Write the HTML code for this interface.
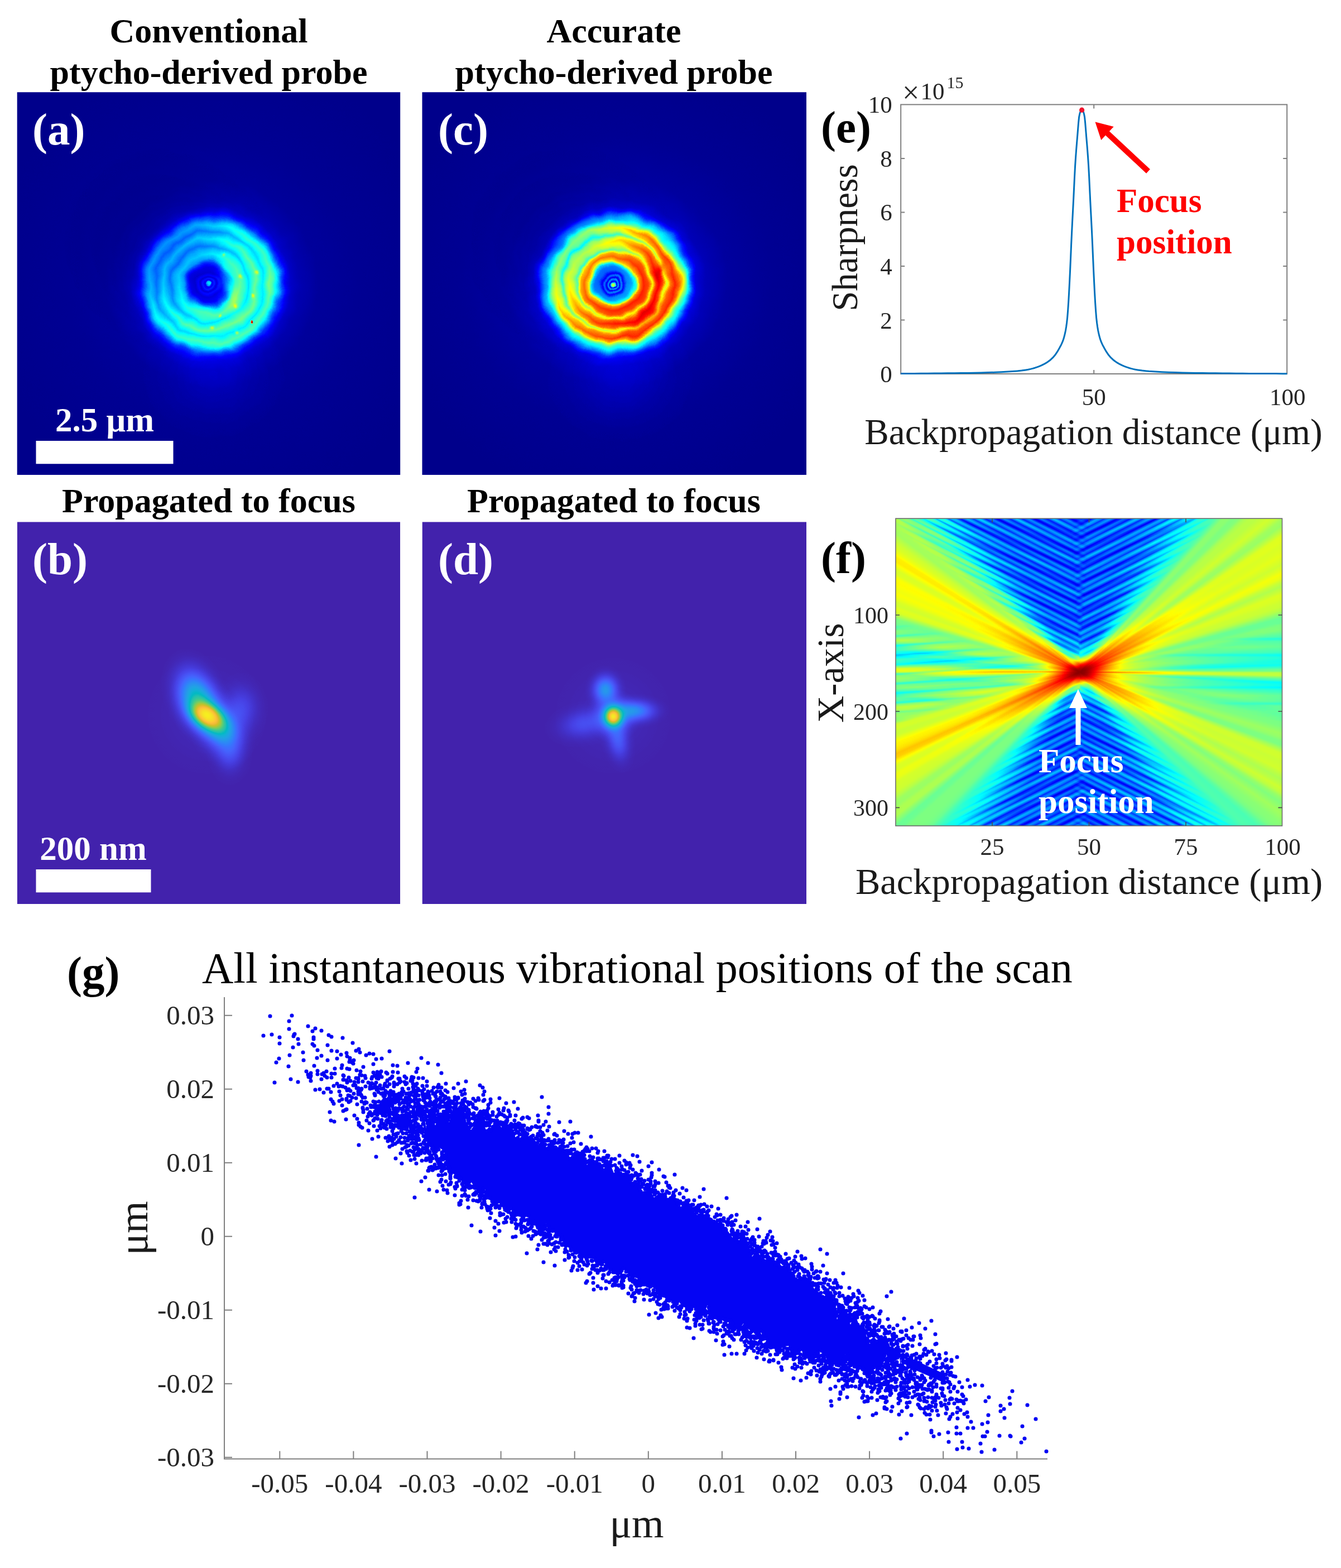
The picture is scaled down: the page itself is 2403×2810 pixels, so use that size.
<!DOCTYPE html>
<html><head><meta charset="utf-8"><title>Figure</title>
<style>
html,body{margin:0;padding:0;background:#fff}
body{width:2403px;height:2810px;position:relative;overflow:hidden;font-family:"Liberation Serif","Times New Roman",serif}
svg{position:absolute;left:0;top:0}
text{font-family:"Liberation Serif","Times New Roman",serif}
</style></head><body>
<div style="position:absolute;left:1605.0px;top:929.2px;width:692.5px;height:550.8px;overflow:hidden;filter:url(#jet);background:conic-gradient(from 0deg at 330.0px 275.3px, rgb(51,51,51) 0deg, rgb(51,51,51) 1deg, rgb(51,51,51) 2deg, rgb(51,51,51) 3deg, rgb(52,52,52) 4deg, rgb(52,52,52) 5deg, rgb(52,52,52) 6deg, rgb(52,52,52) 7deg, rgb(52,52,52) 8deg, rgb(52,52,52) 9deg, rgb(52,52,52) 10deg, rgb(52,52,52) 11deg, rgb(53,53,53) 12deg, rgb(53,53,53) 13deg, rgb(53,53,53) 14deg, rgb(53,53,53) 15deg, rgb(53,53,53) 16deg, rgb(53,53,53) 17deg, rgb(53,53,53) 18deg, rgb(53,53,53) 19deg, rgb(54,54,54) 20deg, rgb(55,55,55) 21deg, rgb(56,56,56) 22deg, rgb(57,57,57) 23deg, rgb(58,58,58) 24deg, rgb(59,59,59) 25deg, rgb(60,60,60) 26deg, rgb(61,61,61) 27deg, rgb(64,64,64) 28deg, rgb(66,66,66) 29deg, rgb(69,69,69) 30deg, rgb(71,71,71) 31deg, rgb(76,76,76) 32deg, rgb(80,80,80) 33deg, rgb(84,84,84) 34deg, rgb(89,89,89) 35deg, rgb(94,94,94) 36deg, rgb(99,99,99) 37deg, rgb(103,103,103) 38deg, rgb(108,108,108) 39deg, rgb(111,111,111) 40deg, rgb(114,114,114) 41deg, rgb(122,122,122) 42deg, rgb(131,131,131) 43deg, rgb(131,131,131) 44deg, rgb(127,127,127) 45deg, rgb(129,129,129) 46deg, rgb(138,138,138) 47deg, rgb(142,142,142) 48deg, rgb(142,142,142) 49deg, rgb(145,145,145) 50deg, rgb(148,148,148) 51deg, rgb(144,144,144) 52deg, rgb(136,136,136) 53deg, rgb(134,134,134) 54deg, rgb(142,142,142) 55deg, rgb(151,151,151) 56deg, rgb(152,152,152) 57deg, rgb(150,150,150) 58deg, rgb(151,151,151) 59deg, rgb(153,153,153) 60deg, rgb(150,150,150) 61deg, rgb(147,147,147) 62deg, rgb(151,151,151) 63deg, rgb(157,157,157) 64deg, rgb(154,154,154) 65deg, rgb(145,145,145) 66deg, rgb(140,140,140) 67deg, rgb(145,145,145) 68deg, rgb(151,151,151) 69deg, rgb(150,150,150) 70deg, rgb(147,147,147) 71deg, rgb(146,146,146) 72deg, rgb(141,141,141) 73deg, rgb(131,131,131) 74deg, rgb(122,122,122) 75deg, rgb(122,122,122) 76deg, rgb(127,127,127) 77deg, rgb(126,126,126) 78deg, rgb(120,120,120) 79deg, rgb(116,116,116) 80deg, rgb(116,116,116) 81deg, rgb(116,116,116) 82deg, rgb(113,113,113) 83deg, rgb(112,112,112) 84deg, rgb(109,109,109) 85deg, rgb(104,104,104) 86deg, rgb(94,94,94) 87deg, rgb(92,92,92) 88deg, rgb(115,115,115) 89deg, rgb(146,146,146) 90deg, rgb(142,142,142) 91deg, rgb(111,111,111) 92deg, rgb(91,91,91) 93deg, rgb(102,102,102) 94deg, rgb(107,107,107) 95deg, rgb(110,110,110) 96deg, rgb(114,114,114) 97deg, rgb(118,118,118) 98deg, rgb(121,121,121) 99deg, rgb(120,120,120) 100deg, rgb(117,117,117) 101deg, rgb(118,118,118) 102deg, rgb(123,123,123) 103deg, rgb(126,126,126) 104deg, rgb(127,127,127) 105deg, rgb(131,131,131) 106deg, rgb(135,135,135) 107deg, rgb(133,133,133) 108deg, rgb(127,127,127) 109deg, rgb(127,127,127) 110deg, rgb(138,138,138) 111deg, rgb(147,147,147) 112deg, rgb(148,148,148) 113deg, rgb(146,146,146) 114deg, rgb(147,147,147) 115deg, rgb(148,148,148) 116deg, rgb(143,143,143) 117deg, rgb(139,139,139) 118deg, rgb(142,142,142) 119deg, rgb(147,147,147) 120deg, rgb(143,143,143) 121deg, rgb(133,133,133) 122deg, rgb(128,128,128) 123deg, rgb(132,132,132) 124deg, rgb(136,136,136) 125deg, rgb(133,133,133) 126deg, rgb(130,130,130) 127deg, rgb(129,129,129) 128deg, rgb(126,126,126) 129deg, rgb(119,119,119) 130deg, rgb(114,114,114) 131deg, rgb(115,115,115) 132deg, rgb(116,116,116) 133deg, rgb(113,113,113) 134deg, rgb(108,108,108) 135deg, rgb(105,105,105) 136deg, rgb(101,101,101) 137deg, rgb(99,99,99) 138deg, rgb(96,96,96) 139deg, rgb(93,93,93) 140deg, rgb(91,91,91) 141deg, rgb(88,88,88) 142deg, rgb(85,85,85) 143deg, rgb(82,82,82) 144deg, rgb(78,78,78) 145deg, rgb(74,74,74) 146deg, rgb(70,70,70) 147deg, rgb(66,66,66) 148deg, rgb(65,65,65) 149deg, rgb(63,63,63) 150deg, rgb(62,62,62) 151deg, rgb(60,60,60) 152deg, rgb(59,59,59) 153deg, rgb(58,58,58) 154deg, rgb(56,56,56) 155deg, rgb(56,56,56) 156deg, rgb(56,56,56) 157deg, rgb(55,55,55) 158deg, rgb(55,55,55) 159deg, rgb(55,55,55) 160deg, rgb(55,55,55) 161deg, rgb(55,55,55) 162deg, rgb(54,54,54) 163deg, rgb(54,54,54) 164deg, rgb(54,54,54) 165deg, rgb(54,54,54) 166deg, rgb(54,54,54) 167deg, rgb(53,53,53) 168deg, rgb(53,53,53) 169deg, rgb(53,53,53) 170deg, rgb(53,53,53) 171deg, rgb(53,53,53) 172deg, rgb(52,52,52) 173deg, rgb(52,52,52) 174deg, rgb(52,52,52) 175deg, rgb(52,52,52) 176deg, rgb(52,52,52) 177deg, rgb(51,51,51) 178deg, rgb(51,51,51) 179deg, rgb(51,51,51) 180deg, rgb(51,51,51) 181deg, rgb(51,51,51) 182deg, rgb(51,51,51) 183deg, rgb(51,51,51) 184deg, rgb(52,52,52) 185deg, rgb(52,52,52) 186deg, rgb(52,52,52) 187deg, rgb(52,52,52) 188deg, rgb(52,52,52) 189deg, rgb(52,52,52) 190deg, rgb(52,52,52) 191deg, rgb(52,52,52) 192deg, rgb(52,52,52) 193deg, rgb(52,52,52) 194deg, rgb(53,53,53) 195deg, rgb(53,53,53) 196deg, rgb(53,53,53) 197deg, rgb(53,53,53) 198deg, rgb(53,53,53) 199deg, rgb(53,53,53) 200deg, rgb(53,53,53) 201deg, rgb(53,53,53) 202deg, rgb(53,53,53) 203deg, rgb(53,53,53) 204deg, rgb(54,54,54) 205deg, rgb(56,56,56) 206deg, rgb(58,58,58) 207deg, rgb(60,60,60) 208deg, rgb(62,62,62) 209deg, rgb(64,64,64) 210deg, rgb(68,68,68) 211deg, rgb(71,71,71) 212deg, rgb(75,75,75) 213deg, rgb(79,79,79) 214deg, rgb(84,84,84) 215deg, rgb(88,88,88) 216deg, rgb(92,92,92) 217deg, rgb(97,97,97) 218deg, rgb(101,101,101) 219deg, rgb(104,104,104) 220deg, rgb(107,107,107) 221deg, rgb(110,110,110) 222deg, rgb(116,116,116) 223deg, rgb(123,123,123) 224deg, rgb(126,126,126) 225deg, rgb(127,127,127) 226deg, rgb(127,127,127) 227deg, rgb(127,127,127) 228deg, rgb(123,123,123) 229deg, rgb(122,122,122) 230deg, rgb(130,130,130) 231deg, rgb(139,139,139) 232deg, rgb(139,139,139) 233deg, rgb(134,134,134) 234deg, rgb(135,135,135) 235deg, rgb(142,142,142) 236deg, rgb(147,147,147) 237deg, rgb(148,148,148) 238deg, rgb(149,149,149) 239deg, rgb(154,154,154) 240deg, rgb(155,155,155) 241deg, rgb(150,150,150) 242deg, rgb(151,151,151) 243deg, rgb(160,160,160) 244deg, rgb(171,171,171) 245deg, rgb(174,174,174) 246deg, rgb(167,167,167) 247deg, rgb(163,163,163) 248deg, rgb(161,161,161) 249deg, rgb(154,154,154) 250deg, rgb(147,147,147) 251deg, rgb(146,146,146) 252deg, rgb(149,149,149) 253deg, rgb(148,148,148) 254deg, rgb(138,138,138) 255deg, rgb(131,131,131) 256deg, rgb(133,133,133) 257deg, rgb(136,136,136) 258deg, rgb(132,132,132) 259deg, rgb(125,125,125) 260deg, rgb(121,121,121) 261deg, rgb(119,119,119) 262deg, rgb(115,115,115) 263deg, rgb(111,111,111) 264deg, rgb(112,112,112) 265deg, rgb(118,118,118) 266deg, rgb(123,123,123) 267deg, rgb(123,123,123) 268deg, rgb(141,141,141) 269deg, rgb(155,155,155) 270deg, rgb(143,143,143) 271deg, rgb(116,116,116) 272deg, rgb(97,97,97) 273deg, rgb(94,94,94) 274deg, rgb(92,92,92) 275deg, rgb(107,107,107) 276deg, rgb(109,109,109) 277deg, rgb(113,113,113) 278deg, rgb(122,122,122) 279deg, rgb(126,126,126) 280deg, rgb(126,126,126) 281deg, rgb(125,125,125) 282deg, rgb(125,125,125) 283deg, rgb(126,126,126) 284deg, rgb(124,124,124) 285deg, rgb(127,127,127) 286deg, rgb(139,139,139) 287deg, rgb(150,150,150) 288deg, rgb(152,152,152) 289deg, rgb(148,148,148) 290deg, rgb(150,150,150) 291deg, rgb(155,155,155) 292deg, rgb(158,158,158) 293deg, rgb(156,156,156) 294deg, rgb(158,158,158) 295deg, rgb(160,160,160) 296deg, rgb(158,158,158) 297deg, rgb(151,151,151) 298deg, rgb(150,150,150) 299deg, rgb(157,157,157) 300deg, rgb(164,164,164) 301deg, rgb(163,163,163) 302deg, rgb(155,155,155) 303deg, rgb(150,150,150) 304deg, rgb(147,147,147) 305deg, rgb(142,142,142) 306deg, rgb(136,136,136) 307deg, rgb(137,137,137) 308deg, rgb(141,141,141) 309deg, rgb(139,139,139) 310deg, rgb(130,130,130) 311deg, rgb(124,124,124) 312deg, rgb(124,124,124) 313deg, rgb(121,121,121) 314deg, rgb(114,114,114) 315deg, rgb(106,106,106) 316deg, rgb(97,97,97) 317deg, rgb(90,90,90) 318deg, rgb(85,85,85) 319deg, rgb(79,79,79) 320deg, rgb(74,74,74) 321deg, rgb(69,69,69) 322deg, rgb(64,64,64) 323deg, rgb(62,62,62) 324deg, rgb(61,61,61) 325deg, rgb(59,59,59) 326deg, rgb(58,58,58) 327deg, rgb(56,56,56) 328deg, rgb(55,55,55) 329deg, rgb(54,54,54) 330deg, rgb(53,53,53) 331deg, rgb(53,53,53) 332deg, rgb(53,53,53) 333deg, rgb(53,53,53) 334deg, rgb(53,53,53) 335deg, rgb(53,53,53) 336deg, rgb(53,53,53) 337deg, rgb(53,53,53) 338deg, rgb(53,53,53) 339deg, rgb(53,53,53) 340deg, rgb(53,53,53) 341deg, rgb(53,53,53) 342deg, rgb(52,52,52) 343deg, rgb(52,52,52) 344deg, rgb(52,52,52) 345deg, rgb(52,52,52) 346deg, rgb(52,52,52) 347deg, rgb(52,52,52) 348deg, rgb(52,52,52) 349deg, rgb(52,52,52) 350deg, rgb(52,52,52) 351deg, rgb(52,52,52) 352deg, rgb(52,52,52) 353deg, rgb(52,52,52) 354deg, rgb(51,51,51) 355deg, rgb(51,51,51) 356deg, rgb(51,51,51) 357deg, rgb(51,51,51) 358deg, rgb(51,51,51) 359deg, rgb(51,51,51) 360deg);"><div style="position:absolute;left:0;top:0;width:100%;height:100%;-webkit-mask-image:conic-gradient(from 308deg at 330.0px 275.3px, rgba(0,0,0,0) 0deg, rgba(0,0,0,1) 12deg, rgba(0,0,0,1) 49deg, rgba(0,0,0,0) 56deg, rgba(0,0,0,0) 360deg);mask-image:conic-gradient(from 308deg at 330.0px 275.3px, rgba(0,0,0,0) 0deg, rgba(0,0,0,1) 12deg, rgba(0,0,0,1) 49deg, rgba(0,0,0,0) 56deg, rgba(0,0,0,0) 360deg);background:repeating-linear-gradient(207deg, rgba(0,0,0,0) 0px, rgba(0,0,0,0.34) 2.5px, rgba(0,0,0,0) 5.0px, rgba(255,255,255,0.08) 7.5px, rgba(0,0,0,0) 10.0px),repeating-linear-gradient(203deg, rgba(0,0,0,0) 7px, rgba(0,0,0,0.26) 12.0px, rgba(0,0,0,0) 17.0px, rgba(255,255,255,0.08) 25.5px, rgba(0,0,0,0) 34.0px);"></div><div style="position:absolute;left:0;top:0;width:100%;height:100%;-webkit-mask-image:conic-gradient(from 356deg at 330.0px 275.3px, rgba(0,0,0,0) 0deg, rgba(0,0,0,1) 7deg, rgba(0,0,0,1) 34deg, rgba(0,0,0,0) 46deg, rgba(0,0,0,0) 360deg);mask-image:conic-gradient(from 356deg at 330.0px 275.3px, rgba(0,0,0,0) 0deg, rgba(0,0,0,1) 7deg, rgba(0,0,0,1) 34deg, rgba(0,0,0,0) 46deg, rgba(0,0,0,0) 360deg);background:repeating-linear-gradient(153deg, rgba(0,0,0,0) 0px, rgba(0,0,0,0.34) 2.5px, rgba(0,0,0,0) 5.0px, rgba(255,255,255,0.08) 7.8px, rgba(0,0,0,0) 10.5px),repeating-linear-gradient(157deg, rgba(0,0,0,0) 4px, rgba(0,0,0,0.26) 9.0px, rgba(0,0,0,0) 14.0px, rgba(255,255,255,0.08) 21.5px, rgba(0,0,0,0) 29.0px);"></div><div style="position:absolute;left:0;top:0;width:100%;height:100%;-webkit-mask-image:conic-gradient(from 134deg at 330.0px 275.3px, rgba(0,0,0,0) 0deg, rgba(0,0,0,1) 12deg, rgba(0,0,0,1) 43deg, rgba(0,0,0,0) 50deg, rgba(0,0,0,0) 360deg);mask-image:conic-gradient(from 134deg at 330.0px 275.3px, rgba(0,0,0,0) 0deg, rgba(0,0,0,1) 12deg, rgba(0,0,0,1) 43deg, rgba(0,0,0,0) 50deg, rgba(0,0,0,0) 360deg);background:repeating-linear-gradient(27deg, rgba(0,0,0,0) 0px, rgba(0,0,0,0.34) 2.5px, rgba(0,0,0,0) 5.0px, rgba(255,255,255,0.08) 7.5px, rgba(0,0,0,0) 10.0px),repeating-linear-gradient(23deg, rgba(0,0,0,0) 7px, rgba(0,0,0,0.26) 12.0px, rgba(0,0,0,0) 17.0px, rgba(255,255,255,0.08) 25.5px, rgba(0,0,0,0) 34.0px);"></div><div style="position:absolute;left:0;top:0;width:100%;height:100%;-webkit-mask-image:conic-gradient(from 176deg at 330.0px 275.3px, rgba(0,0,0,0) 0deg, rgba(0,0,0,1) 7deg, rgba(0,0,0,1) 34deg, rgba(0,0,0,0) 46deg, rgba(0,0,0,0) 360deg);mask-image:conic-gradient(from 176deg at 330.0px 275.3px, rgba(0,0,0,0) 0deg, rgba(0,0,0,1) 7deg, rgba(0,0,0,1) 34deg, rgba(0,0,0,0) 46deg, rgba(0,0,0,0) 360deg);background:repeating-linear-gradient(-27deg, rgba(0,0,0,0) 0px, rgba(0,0,0,0.34) 2.5px, rgba(0,0,0,0) 5.0px, rgba(255,255,255,0.08) 7.8px, rgba(0,0,0,0) 10.5px),repeating-linear-gradient(-23deg, rgba(0,0,0,0) 4px, rgba(0,0,0,0.26) 9.0px, rgba(0,0,0,0) 14.0px, rgba(255,255,255,0.08) 21.5px, rgba(0,0,0,0) 29.0px);"></div><div style="position:absolute;left:0;top:0;width:100%;height:100%;-webkit-mask-image:conic-gradient(from 254deg at 330.0px 275.3px, rgba(0,0,0,0) 0deg, rgba(0,0,0,1) 6deg, rgba(0,0,0,1) 26deg, rgba(0,0,0,0) 32deg, rgba(0,0,0,0) 360deg);mask-image:conic-gradient(from 254deg at 330.0px 275.3px, rgba(0,0,0,0) 0deg, rgba(0,0,0,1) 6deg, rgba(0,0,0,1) 26deg, rgba(0,0,0,0) 32deg, rgba(0,0,0,0) 360deg);background:repeating-linear-gradient(176deg, rgba(0,0,0,0) 3px, rgba(0,0,0,0.16) 6.5px, rgba(0,0,0,0) 10.0px, rgba(255,255,255,0.08) 15.0px, rgba(0,0,0,0) 20.0px),repeating-linear-gradient(185deg, rgba(0,0,0,0) 3px, rgba(0,0,0,0.1) 10.0px, rgba(0,0,0,0) 17.0px, rgba(255,255,255,0.06) 30.5px, rgba(0,0,0,0) 44.0px);"></div><div style="position:absolute;left:0;top:0;width:100%;height:100%;-webkit-mask-image:conic-gradient(from 76deg at 330.0px 275.3px, rgba(0,0,0,0) 0deg, rgba(0,0,0,1) 5deg, rgba(0,0,0,1) 23deg, rgba(0,0,0,0) 28deg, rgba(0,0,0,0) 360deg);mask-image:conic-gradient(from 76deg at 330.0px 275.3px, rgba(0,0,0,0) 0deg, rgba(0,0,0,1) 5deg, rgba(0,0,0,1) 23deg, rgba(0,0,0,0) 28deg, rgba(0,0,0,0) 360deg);background:repeating-linear-gradient(180deg, rgba(0,0,0,0) 9px, rgba(0,0,0,0.1) 13.0px, rgba(0,0,0,0) 17.0px, rgba(255,255,255,0.06) 27.5px, rgba(0,0,0,0) 38.0px);"></div><svg width="692.5" height="550.8" style="position:absolute;left:0;top:0"><g transform="translate(330.0 275.3)"><circle r="3" fill="url(#gs)" fill-opacity="0.16" transform="translate(0 0) rotate(0) scale(140 36)"/><circle r="3" fill="url(#gs)" fill-opacity="0.45" transform="translate(0 0) rotate(-30) scale(112 15)"/><circle r="3" fill="url(#gs)" fill-opacity="0.36" transform="translate(0 0) rotate(28) scale(100 15)"/><circle r="3" fill="url(#gs)" fill-opacity="0.28" transform="translate(55 0) rotate(0) scale(70 8)"/><circle r="3" fill="url(#gs)" fill-opacity="0.55" transform="translate(0 0) rotate(-20) scale(34 12)"/><circle r="3" fill="url(#gs)" fill-opacity="0.85" transform="translate(2 0) rotate(-10) scale(13 8)"/></g></svg></div>
<svg width="2403" height="2810" viewBox="0 0 2403 2810">
<defs>
<filter id="jet" x="0" y="0" width="100%" height="100%" filterUnits="objectBoundingBox" color-interpolation-filters="sRGB">
<feComponentTransfer>
<feFuncR type="table" tableValues="0 0 0 0 0.5 1 1 1 0.5"/>
<feFuncG type="table" tableValues="0 0 0.5 1 1 1 0.5 0 0"/>
<feFuncB type="table" tableValues="0.5 1 1 1 0.5 0 0 0 0"/>
</feComponentTransfer>
</filter>
<filter id="par" x="0" y="0" width="100%" height="100%" color-interpolation-filters="sRGB">
<feComponentTransfer>
<feFuncR type="table" tableValues="0.259 0.263 0.278 0.282 0.271 0.22 0.18 0.153 0.125 0.071 0.008 0.141 0.216 0.341 0.506 0.671 0.82 0.941 0.996 0.98 0.961 0.976"/>
<feFuncG type="table" tableValues="0.137 0.196 0.255 0.322 0.388 0.459 0.529 0.592 0.647 0.694 0.729 0.757 0.784 0.8 0.8 0.78 0.749 0.729 0.765 0.839 0.914 0.984"/>
<feFuncB type="table" tableValues="0.675 0.796 0.898 0.957 0.992 0.996 0.969 0.922 0.89 0.839 0.765 0.682 0.592 0.478 0.349 0.224 0.153 0.212 0.22 0.176 0.141 0.082"/>
</feComponentTransfer>
</filter>
<radialGradient id="gs" gradientUnits="userSpaceOnUse" cx="0" cy="0" r="3"><stop offset="0.0000" stop-color="#fff" stop-opacity="1.0000"/><stop offset="0.0833" stop-color="#fff" stop-opacity="0.9689"/><stop offset="0.1667" stop-color="#fff" stop-opacity="0.8812"/><stop offset="0.2500" stop-color="#fff" stop-opacity="0.7521"/><stop offset="0.3333" stop-color="#fff" stop-opacity="0.6021"/><stop offset="0.4167" stop-color="#fff" stop-opacity="0.4517"/><stop offset="0.5000" stop-color="#fff" stop-opacity="0.3171"/><stop offset="0.5833" stop-color="#fff" stop-opacity="0.2075"/><stop offset="0.6667" stop-color="#fff" stop-opacity="0.1256"/><stop offset="0.7500" stop-color="#fff" stop-opacity="0.0692"/><stop offset="0.8333" stop-color="#fff" stop-opacity="0.0332"/><stop offset="0.9167" stop-color="#fff" stop-opacity="0.0118"/><stop offset="1.0000" stop-color="#fff" stop-opacity="0.0000"/></radialGradient><clipPath id="cb"><rect x="30.7" y="935.3" width="686.5" height="684.7"/></clipPath><clipPath id="cd"><rect x="756.5" y="935.3" width="688.5" height="684.7"/></clipPath><clipPath id="ca"><rect x="30.7" y="165.3" width="686.5" height="685.7"/></clipPath><clipPath id="cc"><rect x="756.5" y="165.3" width="688.5" height="685.7"/></clipPath>
<filter id="jetw" filterUnits="userSpaceOnUse" x="0" y="140" width="1480" height="740" color-interpolation-filters="sRGB">
<feTurbulence type="fractalNoise" baseFrequency="0.03" numOctaves="2" seed="5" result="n"/>
<feDisplacementMap in="SourceGraphic" in2="n" scale="13" xChannelSelector="R" yChannelSelector="G" result="d"/>
<feComponentTransfer in="d">
<feFuncR type="table" tableValues="0 0 0 0 0.5 1 1 1 0.5"/>
<feFuncG type="table" tableValues="0 0 0.5 1 1 1 0.5 0 0"/>
<feFuncB type="table" tableValues="0.5 1 1 1 0.5 0 0 0 0"/>
</feComponentTransfer>
</filter>
<radialGradient id="ga" gradientUnits="userSpaceOnUse" cx="387.7" cy="510.4" fx="372.7" fy="509.4" r="420" gradientTransform="translate(0 509.4) scale(1 0.975) translate(0 -509.4)"><stop offset="0.0000" stop-color="#737373"/><stop offset="0.0071" stop-color="#6b6b6b"/><stop offset="0.0143" stop-color="#212121"/><stop offset="0.0238" stop-color="#333333"/><stop offset="0.0333" stop-color="#1c1c1c"/><stop offset="0.0429" stop-color="#2b2b2b"/><stop offset="0.0571" stop-color="#1c1c1c"/><stop offset="0.0786" stop-color="#242424"/><stop offset="0.0952" stop-color="#3d3d3d"/><stop offset="0.1119" stop-color="#6b6b6b"/><stop offset="0.1310" stop-color="#808080"/><stop offset="0.1500" stop-color="#737373"/><stop offset="0.1667" stop-color="#5e5e5e"/><stop offset="0.1833" stop-color="#707070"/><stop offset="0.2000" stop-color="#808080"/><stop offset="0.2167" stop-color="#6b6b6b"/><stop offset="0.2310" stop-color="#5c5c5c"/><stop offset="0.2452" stop-color="#6b6b6b"/><stop offset="0.2595" stop-color="#757575"/><stop offset="0.2738" stop-color="#666666"/><stop offset="0.2881" stop-color="#4a4a4a"/><stop offset="0.3024" stop-color="#2e2e2e"/><stop offset="0.3190" stop-color="#1d1d1d"/><stop offset="0.3405" stop-color="#121212"/><stop offset="0.3762" stop-color="#0c0c0c"/><stop offset="0.4524" stop-color="#070707"/><stop offset="0.6190" stop-color="#050505"/><stop offset="1.0000" stop-color="#030303"/></radialGradient><radialGradient id="gc" gradientUnits="userSpaceOnUse" cx="1106.8" cy="502.8" fx="1098.8" fy="508.8" r="420" gradientTransform="translate(0 508.8) scale(1 0.935) translate(0 -508.8)"><stop offset="0.0000" stop-color="#bfbfbf"/><stop offset="0.0071" stop-color="#a6a6a6"/><stop offset="0.0143" stop-color="#1f1f1f"/><stop offset="0.0214" stop-color="#5c5c5c"/><stop offset="0.0286" stop-color="#1f1f1f"/><stop offset="0.0381" stop-color="#525252"/><stop offset="0.0476" stop-color="#262626"/><stop offset="0.0619" stop-color="#4c4c4c"/><stop offset="0.0762" stop-color="#545454"/><stop offset="0.0905" stop-color="#787878"/><stop offset="0.1048" stop-color="#c2c2c2"/><stop offset="0.1238" stop-color="#e6e6e6"/><stop offset="0.1429" stop-color="#dbdbdb"/><stop offset="0.1595" stop-color="#a8a8a8"/><stop offset="0.1738" stop-color="#d6d6d6"/><stop offset="0.1905" stop-color="#e8e8e8"/><stop offset="0.2071" stop-color="#d1d1d1"/><stop offset="0.2214" stop-color="#999999"/><stop offset="0.2357" stop-color="#c7c7c7"/><stop offset="0.2524" stop-color="#d9d9d9"/><stop offset="0.2667" stop-color="#b8b8b8"/><stop offset="0.2786" stop-color="#8c8c8c"/><stop offset="0.2905" stop-color="#6b6b6b"/><stop offset="0.3024" stop-color="#5c5c5c"/><stop offset="0.3143" stop-color="#454545"/><stop offset="0.3286" stop-color="#292929"/><stop offset="0.3476" stop-color="#171717"/><stop offset="0.3857" stop-color="#0e0e0e"/><stop offset="0.4762" stop-color="#080808"/><stop offset="0.6667" stop-color="#050505"/><stop offset="1.0000" stop-color="#030303"/></radialGradient><radialGradient id="gc1" gradientUnits="userSpaceOnUse" cx="1106.8" cy="502.8" fx="1098.8" fy="508.8" r="420" gradientTransform="translate(0 508.8) scale(1 0.935) translate(0 -508.8)"><stop offset="0.0905" stop-color="#cccccc" stop-opacity="0"/><stop offset="0.1071" stop-color="#cccccc" stop-opacity="0.45"/><stop offset="0.1238" stop-color="#dbdbdb" stop-opacity="0.6"/><stop offset="0.1429" stop-color="#d1d1d1" stop-opacity="0.45"/><stop offset="0.1595" stop-color="#bfbfbf" stop-opacity="0"/></radialGradient><radialGradient id="da" gradientUnits="userSpaceOnUse" cx="277.7" cy="429.4" r="270"><stop offset="0.0000" stop-color="#000" stop-opacity="0.42"/><stop offset="0.1852" stop-color="#000" stop-opacity="0.4"/><stop offset="0.3148" stop-color="#000" stop-opacity="0.35"/><stop offset="0.4074" stop-color="#000" stop-opacity="0.28"/><stop offset="0.5000" stop-color="#000" stop-opacity="0.18"/><stop offset="0.6111" stop-color="#000" stop-opacity="0.09"/><stop offset="0.7778" stop-color="#000" stop-opacity="0.03"/><stop offset="1.0000" stop-color="#000" stop-opacity="0"/></radialGradient><radialGradient id="dc" gradientUnits="userSpaceOnUse" cx="1003.8" cy="428.8" r="270"><stop offset="0.0000" stop-color="#000" stop-opacity="0.43"/><stop offset="0.1852" stop-color="#000" stop-opacity="0.39"/><stop offset="0.2963" stop-color="#000" stop-opacity="0.32"/><stop offset="0.3889" stop-color="#000" stop-opacity="0.27"/><stop offset="0.4815" stop-color="#000" stop-opacity="0.19"/><stop offset="0.5926" stop-color="#000" stop-opacity="0.1"/><stop offset="0.7407" stop-color="#000" stop-opacity="0.04"/><stop offset="0.9630" stop-color="#000" stop-opacity="0"/></radialGradient></defs>

<g clip-path="url(#ca)"><g filter="url(#jetw)"><rect x="5.699999999999999" y="140.3" width="736.5" height="735.7" fill="url(#ga)"/><rect x="5.699999999999999" y="140.3" width="736.5" height="735.7" fill="url(#da)"/><circle r="3" fill="url(#gs)" fill-opacity="0.1" transform="translate(490.7 507.4) rotate(0) scale(9 20)"/><circle r="3" fill="url(#gs)" fill-opacity="0.03" transform="translate(382.7 669.4) rotate(0) scale(55 50)"/><circle r="3" fill="url(#gs)" fill-opacity="0.22" transform="translate(412.7 517.4) rotate(-12) scale(9 26)"/><circle r="3" fill="url(#gs)" fill-opacity="0.3" transform="translate(452.7 531.4) rotate(0) scale(2.2 2.2)"/><circle r="3" fill="url(#gs)" fill-opacity="0.25" transform="translate(392.7 565.4) rotate(0) scale(2.2 2.2)"/><circle r="3" fill="url(#gs)" fill-opacity="0.25" transform="translate(421.7 547.4) rotate(0) scale(2.2 2.2)"/><circle r="3" fill="url(#gs)" fill-opacity="0.25" transform="translate(431.7 496.4) rotate(0) scale(2.2 2.2)"/><circle r="3" fill="url(#gs)" fill-opacity="0.25" transform="translate(459.7 489.4) rotate(0) scale(2.2 2.2)"/><circle r="3" fill="url(#gs)" fill-opacity="0.25" transform="translate(378.7 586.4) rotate(0) scale(2.2 2.2)"/><circle r="3" fill="url(#gs)" fill-opacity="0.25" transform="translate(424.7 595.4) rotate(0) scale(2.2 2.2)"/><circle r="3" fill="url(#gs)" fill-opacity="0.2" transform="translate(400.7 457.4) rotate(0) scale(2.2 2.2)"/><circle cx="450.7" cy="577.4" r="2.3" fill="#ededed"/></g></g>
<g clip-path="url(#cc)"><g filter="url(#jetw)"><rect x="731.5" y="140.3" width="738.5" height="735.7" fill="url(#gc)"/><rect x="731.5" y="140.3" width="738.5" height="735.7" fill="url(#dc)"/><rect x="731.5" y="140.3" width="738.5" height="735.7" fill="url(#gc1)"/><circle r="3" fill="url(#gs)" fill-opacity="0.035" transform="translate(1110.8 673.8) rotate(0) scale(55 50)"/><circle r="3" fill="url(#gs)" fill-opacity="0.35" transform="translate(1219.8 504.8) rotate(0) scale(9 22)"/><circle r="3" fill="url(#gs)" fill-opacity="0.5" transform="translate(1183.8 486.8) rotate(10) scale(6 16)"/><circle r="3" fill="url(#gs)" fill-opacity="0.35" transform="translate(1160.8 566.8) rotate(-42) scale(30 8)"/></g></g>
<g filter="url(#par)" clip-path="url(#cb)"><rect x="30.7" y="935.3" width="686.5" height="684.7" fill="#000000" /><circle r="3" fill="url(#gs)" fill-opacity="0.03" transform="translate(371 1281) rotate(0) scale(46 46)"/><circle r="3" fill="url(#gs)" fill-opacity="0.34" transform="translate(350 1246) rotate(-20) scale(20 30)"/><circle r="3" fill="url(#gs)" fill-opacity="0.34" transform="translate(398 1308) rotate(-25) scale(20 25)"/><circle r="3" fill="url(#gs)" fill-opacity="0.11" transform="translate(432 1270) rotate(0) scale(18 24)"/><circle r="3" fill="url(#gs)" fill-opacity="0.11" transform="translate(412 1348) rotate(0) scale(15 22)"/><circle r="3" fill="url(#gs)" fill-opacity="0.38" transform="translate(365 1271) rotate(-30) scale(19 27)"/><circle r="3" fill="url(#gs)" fill-opacity="0.58" transform="translate(376 1288) rotate(35) scale(22 14)"/><circle r="3" fill="url(#gs)" fill-opacity="0.88" transform="translate(371 1281) rotate(30) scale(17 11)"/></g>
<g filter="url(#par)" clip-path="url(#cd)"><rect x="756.5" y="935.3" width="688.5" height="684.7" fill="#000000" /><circle r="3" fill="url(#gs)" fill-opacity="0.03" transform="translate(1099 1283) rotate(0) scale(45 45)"/><circle r="3" fill="url(#gs)" fill-opacity="0.33" transform="translate(1085 1236) rotate(0) scale(13 15)"/><circle r="3" fill="url(#gs)" fill-opacity="0.3" transform="translate(1136 1274) rotate(0) scale(22 11)"/><circle r="3" fill="url(#gs)" fill-opacity="0.12" transform="translate(1046 1297) rotate(-10) scale(26 15)"/><circle r="3" fill="url(#gs)" fill-opacity="0.16" transform="translate(1107 1325) rotate(-10) scale(11 22)"/><circle r="3" fill="url(#gs)" fill-opacity="0.4" transform="translate(1099 1283) rotate(0) scale(17 17)"/><circle r="3" fill="url(#gs)" fill-opacity="0.93" transform="translate(1099 1284) rotate(0) scale(9.5 10.5)"/></g>
<text x="374" y="76" font-size="62" font-weight="bold" text-anchor="middle" fill="#000" >Conventional</text>
<text x="374" y="149.5" font-size="62" font-weight="bold" text-anchor="middle" fill="#000" >ptycho-derived probe</text>
<text x="1100" y="76" font-size="62" font-weight="bold" text-anchor="middle" fill="#000" >Accurate</text>
<text x="1100" y="149.5" font-size="62" font-weight="bold" text-anchor="middle" fill="#000" >ptycho-derived probe</text>
<text x="374" y="917.5" font-size="62" font-weight="bold" text-anchor="middle" fill="#000" >Propagated to focus</text>
<text x="1100" y="917.5" font-size="62" font-weight="bold" text-anchor="middle" fill="#000" >Propagated to focus</text>
<text x="58" y="259" font-size="81" font-weight="bold" text-anchor="start" fill="#fff" >(a)</text>
<text x="785" y="259" font-size="81" font-weight="bold" text-anchor="start" fill="#fff" >(c)</text>
<text x="58" y="1029" font-size="81" font-weight="bold" text-anchor="start" fill="#fff" >(b)</text>
<text x="785" y="1029" font-size="81" font-weight="bold" text-anchor="start" fill="#fff" >(d)</text>
<text x="187.5" y="772.5" font-size="61" font-weight="bold" text-anchor="middle" fill="#fff" >2.5 μm</text>
<rect x="64.5" y="790" width="246" height="41.3" fill="#fff"/>
<text x="167" y="1541" font-size="61" font-weight="bold" text-anchor="middle" fill="#fff" >200 nm</text>
<rect x="64.5" y="1558" width="206" height="41.3" fill="#fff"/>
<rect x="1614.2" y="187.4" width="692.0" height="482.6" fill="none" stroke="#7f7f7f" stroke-width="2"/>
<text x="1598.7" y="685.0" font-size="43" font-weight="normal" text-anchor="end" fill="#262626" >0</text>
<text x="1598.7" y="588.5" font-size="43" font-weight="normal" text-anchor="end" fill="#262626" >2</text>
<text x="1598.7" y="492.0" font-size="43" font-weight="normal" text-anchor="end" fill="#262626" >4</text>
<text x="1598.7" y="395.4" font-size="43" font-weight="normal" text-anchor="end" fill="#262626" >6</text>
<text x="1598.7" y="298.9" font-size="43" font-weight="normal" text-anchor="end" fill="#262626" >8</text>
<text x="1598.7" y="202.4" font-size="43" font-weight="normal" text-anchor="end" fill="#262626" >10</text>
<path d="M1614.2 573.5h7M2306.2 573.5h-7M1614.2 477.0h7M2306.2 477.0h-7M1614.2 380.4h7M2306.2 380.4h-7M1614.2 283.9h7M2306.2 283.9h-7M1960.2 670.0v-7M1960.2 187.4v7" stroke="#7f7f7f" stroke-width="2" fill="none"/>
<text x="1960.1999999999998" y="725.5" font-size="43" font-weight="normal" text-anchor="middle" fill="#262626" >50</text>
<text x="2307.2" y="725.5" font-size="43" font-weight="normal" text-anchor="middle" fill="#262626" >100</text>
<text x="1617" y="177.5" font-size="43" fill="#262626"><tspan font-size="54" dy="6">×</tspan><tspan dx="2" dy="-6">10</tspan><tspan dy="-20" dx="4" font-size="30">15</tspan></text>
<text x="1959.5" y="796" font-size="65.2" font-weight="normal" text-anchor="middle" fill="#1a1a1a" >Backpropagation distance (μm)</text>
<text transform="translate(1536 426) rotate(-90)" font-size="65" text-anchor="middle" fill="#1a1a1a">Sharpness</text>
<text x="1471" y="254.5" font-size="81" font-weight="bold" text-anchor="start" fill="#000" >(e)</text>
<path d="M1614.2 669.5L1626.2 669.5L1638.2 669.4L1650.2 669.3L1662.2 669.2L1674.2 669.1L1686.2 669.0L1698.2 668.8L1710.2 668.7L1722.2 668.5L1734.2 668.4L1746.2 668.2L1758.2 667.9L1770.2 667.6L1782.2 667.3L1794.2 666.8L1806.2 666.1L1818.2 665.3L1818.6 665.3L1822.6 664.9L1826.6 664.5L1830.6 664.1L1834.6 663.5L1838.6 662.9L1842.6 662.3L1846.6 661.4L1850.6 660.4L1854.6 659.2L1858.6 657.8L1862.6 656.4L1866.6 654.7L1870.6 652.7L1874.6 650.4L1878.6 647.8L1882.6 644.7L1886.6 640.9L1890.6 636.3L1894.6 630.4L1898.6 623.4L1899.6 621.6L1900.6 619.8L1901.6 617.8L1902.6 615.7L1903.6 613.4L1904.6 610.9L1905.6 608.0L1906.6 604.7L1907.6 601.0L1908.6 596.7L1909.6 591.7L1910.6 585.7L1911.6 578.5L1912.6 569.6L1913.6 557.1L1914.6 542.3L1915.6 525.0L1916.6 505.2L1917.6 484.4L1918.6 461.6L1919.6 438.4L1920.6 416.6L1921.6 396.6L1922.6 377.3L1923.6 357.9L1924.6 336.9L1925.6 315.7L1926.6 297.1L1927.6 281.9L1928.6 268.5L1929.6 256.2L1930.6 244.3L1931.6 231.8L1932.6 219.5L1933.6 209.9L1934.6 204.7L1935.6 201.2L1936.6 199.1L1937.6 197.7L1938.6 197.1L1939.6 197.7L1940.6 199.1L1941.6 201.2L1942.6 204.7L1943.6 209.9L1944.6 219.5L1945.6 231.8L1946.6 244.3L1947.6 256.2L1948.6 268.5L1949.6 281.9L1950.6 297.1L1951.6 315.7L1952.6 336.9L1953.6 357.9L1954.6 377.3L1955.6 396.6L1956.6 416.6L1957.6 438.4L1958.6 461.6L1959.6 484.4L1960.6 505.2L1961.6 525.0L1962.6 542.3L1963.6 557.1L1964.6 569.6L1965.6 578.5L1966.6 585.7L1967.6 591.7L1968.6 596.7L1969.6 601.0L1970.6 604.7L1971.6 608.0L1972.6 610.9L1973.6 613.4L1974.6 615.7L1975.6 617.8L1976.6 619.8L1977.6 621.6L1978.6 623.4L1982.6 630.4L1986.6 636.3L1990.6 640.9L1994.6 644.7L1998.6 647.8L2002.6 650.4L2006.6 652.7L2010.6 654.7L2014.6 656.4L2018.6 657.8L2022.6 659.2L2026.6 660.4L2030.6 661.4L2034.6 662.3L2038.6 662.9L2042.6 663.5L2046.6 664.1L2050.6 664.5L2054.6 664.9L2058.6 665.3L2070.6 666.1L2082.6 666.8L2094.6 667.3L2106.6 667.6L2118.6 667.9L2130.6 668.2L2142.6 668.4L2154.6 668.5L2166.6 668.7L2178.6 668.8L2190.6 669.0L2202.6 669.1L2214.6 669.2L2226.6 669.3L2238.6 669.4L2250.6 669.5L2262.6 669.5L2274.6 669.6L2286.6 669.6L2298.6 669.7L2306.2 669.7" fill="none" stroke="#0072bd" stroke-width="3" stroke-linejoin="round"/>
<circle cx="1938.6" cy="197.2" r="4.6" fill="#f0142d"/>
<polygon points="2060.9,303.3 1987.9,235.3 1995.7,226.9 1962.5,218.5 1973.2,251.0 1981.0,242.6 2054.1,310.7" fill="#ff0000"/>
<text x="2001" y="379.5" font-size="61" font-weight="bold" text-anchor="start" fill="#ff0000" >Focus</text>
<text x="2001" y="453.5" font-size="61" font-weight="bold" text-anchor="start" fill="#ff0000" >position</text>
<rect x="1605.0" y="929.2" width="692.5" height="550.8" fill="none" stroke="#6b6b6b" stroke-width="1.6"/>
<text x="1592.0" y="1117.2" font-size="42" font-weight="normal" text-anchor="end" fill="#262626" >100</text>
<text x="1592.0" y="1289.8" font-size="42" font-weight="normal" text-anchor="end" fill="#262626" >200</text>
<text x="1592.0" y="1462.4" font-size="42" font-weight="normal" text-anchor="end" fill="#262626" >300</text>
<text x="1778" y="1531.5" font-size="43" font-weight="normal" text-anchor="middle" fill="#262626" >25</text>
<text x="1951.5" y="1531.5" font-size="43" font-weight="normal" text-anchor="middle" fill="#262626" >50</text>
<text x="2125" y="1531.5" font-size="43" font-weight="normal" text-anchor="middle" fill="#262626" >75</text>
<text x="2298.5" y="1531.5" font-size="43" font-weight="normal" text-anchor="middle" fill="#262626" >100</text>
<path d="M1605.0 1102.2h7M2297.5 1102.2h-7M1605.0 1274.8h7M2297.5 1274.8h-7M1605.0 1447.4h7M2297.5 1447.4h-7M1778 1480.0v-7M1778 929.2v7M1951.5 1480.0v-7M1951.5 929.2v7M2125 1480.0v-7M2125 929.2v7" stroke="#4d4d4d" stroke-width="1.6" fill="none"/>
<text x="1951.5" y="1602" font-size="66.5" font-weight="normal" text-anchor="middle" fill="#1a1a1a" >Backpropagation distance (μm)</text>
<text transform="translate(1510.5 1206) rotate(-90)" font-size="67" text-anchor="middle" fill="#1a1a1a">X-axis</text>
<text x="1471" y="1026.5" font-size="81" font-weight="bold" text-anchor="start" fill="#000" >(f)</text>
<polygon points="1936.5,1335.0 1936.5,1269.0 1948.0,1269.0 1932.0,1235.0 1916.0,1269.0 1927.5,1269.0 1927.5,1335.0" fill="#fff"/>
<text x="1861" y="1384" font-size="61" font-weight="bold" text-anchor="start" fill="#fff" >Focus</text>
<text x="1861" y="1457" font-size="61" font-weight="bold" text-anchor="start" fill="#fff" >position</text>
<path d="M402.0 1787.0V2614.6H1877.0" fill="none" stroke="#7f7f7f" stroke-width="2"/>
<text x="384.0" y="2627.8" font-size="49" font-weight="normal" text-anchor="end" fill="#262626" >-0.03</text>
<text x="384.0" y="2495.8" font-size="49" font-weight="normal" text-anchor="end" fill="#262626" >-0.02</text>
<text x="384.0" y="2363.8" font-size="49" font-weight="normal" text-anchor="end" fill="#262626" >-0.01</text>
<text x="384.0" y="2231.8" font-size="49" font-weight="normal" text-anchor="end" fill="#262626" >0</text>
<text x="384.0" y="2099.8" font-size="49" font-weight="normal" text-anchor="end" fill="#262626" >0.01</text>
<text x="384.0" y="1967.8" font-size="49" font-weight="normal" text-anchor="end" fill="#262626" >0.02</text>
<text x="384.0" y="1835.8" font-size="49" font-weight="normal" text-anchor="end" fill="#262626" >0.03</text>
<text x="501.3" y="2675.2" font-size="49" font-weight="normal" text-anchor="middle" fill="#262626" >-0.05</text>
<text x="633.4" y="2675.2" font-size="49" font-weight="normal" text-anchor="middle" fill="#262626" >-0.04</text>
<text x="765.5" y="2675.2" font-size="49" font-weight="normal" text-anchor="middle" fill="#262626" >-0.03</text>
<text x="897.6" y="2675.2" font-size="49" font-weight="normal" text-anchor="middle" fill="#262626" >-0.02</text>
<text x="1029.7" y="2675.2" font-size="49" font-weight="normal" text-anchor="middle" fill="#262626" >-0.01</text>
<text x="1161.8" y="2675.2" font-size="49" font-weight="normal" text-anchor="middle" fill="#262626" >0</text>
<text x="1293.9" y="2675.2" font-size="49" font-weight="normal" text-anchor="middle" fill="#262626" >0.01</text>
<text x="1426.0" y="2675.2" font-size="49" font-weight="normal" text-anchor="middle" fill="#262626" >0.02</text>
<text x="1558.1" y="2675.2" font-size="49" font-weight="normal" text-anchor="middle" fill="#262626" >0.03</text>
<text x="1690.2" y="2675.2" font-size="49" font-weight="normal" text-anchor="middle" fill="#262626" >0.04</text>
<text x="1822.3" y="2675.2" font-size="49" font-weight="normal" text-anchor="middle" fill="#262626" >0.05</text>
<path d="M402.0 2611.8h14M402.0 2479.8h14M402.0 2347.8h14M402.0 2215.8h14M402.0 2083.8h14M402.0 1951.8h14M402.0 1819.8h14M501.3 2614.6v-14M633.4 2614.6v-14M765.5 2614.6v-14M897.6 2614.6v-14M1029.7 2614.6v-14M1161.8 2614.6v-14M1293.9 2614.6v-14M1426.0 2614.6v-14M1558.1 2614.6v-14M1690.2 2614.6v-14M1822.3 2614.6v-14" stroke="#7f7f7f" stroke-width="2" fill="none"/>
<text x="1141" y="2755" font-size="74" font-weight="normal" text-anchor="middle" fill="#1a1a1a" >μm</text>
<text transform="translate(264 2201) rotate(-90)" font-size="74" text-anchor="middle" fill="#1a1a1a">μm</text>
<text x="120" y="1770" font-size="81" font-weight="bold" text-anchor="start" fill="#000" >(g)</text>
<text x="362" y="1760.5" font-size="78" font-weight="normal" text-anchor="start" fill="#000" >All instantaneous vibrational positions of the scan</text>
<polygon points="676,1981 692,1969 700,1957 708,1992 716,1999 724,1998 732,1992 740,2015 748,1970 756,1982 764,2022 772,1990 780,2017 788,1996 796,1992 804,2015 812,1984 820,1985 828,1976 836,2012 844,2025 852,2013 860,1995 868,2026 876,2026 884,2019 892,2010 900,2023 908,2017 916,2016 924,2039 932,2041 940,2025 948,2038 956,2039 964,2052 972,2042 980,2058 988,2051 996,2057 1004,2057 1012,2061 1020,2075 1028,2068 1036,2066 1044,2066 1052,2088 1060,2073 1068,2082 1076,2088 1084,2096 1092,2082 1100,2102 1108,2096 1116,2104 1124,2100 1132,2127 1140,2117 1148,2135 1156,2137 1164,2131 1172,2146 1180,2140 1188,2140 1196,2149 1204,2146 1212,2150 1220,2164 1228,2155 1236,2159 1244,2172 1252,2180 1260,2178 1268,2178 1276,2188 1284,2188 1292,2195 1300,2214 1308,2212 1316,2222 1324,2224 1332,2207 1340,2227 1348,2252 1356,2240 1364,2253 1372,2259 1380,2255 1388,2261 1396,2269 1404,2271 1412,2266 1420,2281 1428,2292 1436,2290 1444,2287 1452,2298 1460,2311 1468,2316 1476,2324 1484,2316 1492,2322 1500,2365 1508,2339 1516,2348 1524,2374 1532,2354 1540,2377 1548,2372 1556,2411 1564,2402 1572,2403 1580,2397 1588,2400 1596,2416 1612,2419 1620,2485 1628,2432 1692,2462 1692,2478 1628,2450 1620,2502 1612,2433 1596,2445 1588,2427 1580,2453 1572,2451 1564,2452 1556,2468 1548,2455 1540,2452 1532,2449 1524,2447 1516,2424 1508,2448 1500,2446 1492,2443 1484,2443 1476,2422 1468,2421 1460,2432 1452,2436 1444,2432 1436,2420 1428,2426 1420,2431 1412,2410 1404,2411 1396,2424 1388,2415 1380,2416 1372,2400 1364,2386 1356,2388 1348,2387 1340,2381 1332,2372 1324,2383 1316,2382 1308,2367 1300,2365 1292,2364 1284,2362 1276,2363 1268,2339 1260,2356 1252,2363 1244,2342 1236,2347 1228,2340 1220,2330 1212,2341 1204,2331 1196,2331 1188,2322 1180,2324 1172,2305 1164,2305 1156,2303 1148,2303 1140,2287 1132,2295 1124,2280 1116,2274 1108,2289 1100,2280 1092,2274 1084,2262 1076,2266 1068,2259 1060,2253 1052,2256 1044,2252 1036,2245 1028,2246 1020,2233 1012,2232 1004,2216 996,2206 988,2207 980,2189 972,2213 964,2197 956,2194 948,2179 940,2178 932,2177 924,2178 916,2167 908,2169 900,2161 892,2154 884,2160 876,2147 868,2129 860,2143 852,2129 844,2118 836,2128 828,2117 820,2110 812,2101 804,2094 796,2063 788,2057 780,2068 772,2053 764,2044 756,2006 748,2001 740,2049 732,2019 724,2024 716,2021 708,2009 700,1982 692,2000 676,1997" fill="#0404f4"/>
<path d="M472 1856h0m12 -35h0m34 9h0m0 14h0m-31 10h0m14 5h0m0 11h0m18 21h0m-19 6h0m-5 7h0m22 7h0m-25 29h0m31 -120h0m29 19h0m-24 14h0m-1 1h0m-1 3h0m8 5h0m1 9h0m-10 6h0m18 9h0m1 14h0m5 20h0m8 3h0m-5 3h0m5 2h0m-4 2h0m3 1h0m-35 3h0m36 3h0m-23 2h0m31 -96h0m11 4h0m-16 1h0m29 7h0m5 3h0m-32 1h0m0 3h0m-2 9h0m27 2h0m-24 1h0m6 8h0m25 1h0m-18 9h0m-8 4h0m19 4h0m-24 10h0m6 9h0m16 1h0m-5 3h0m14 1h0m-25 1h0m8 0h0m5 3h0m4 3h0m8 0h0m-18 3h0m22 12h0m-9 5h0m-3 0h0m-13 1h0m-8 1h0m28 4h0m-13 1h0m13 12h0m3 4h0m2 4h0m-7 15h0m2 15h0m6 2h0m15 -150h0m18 9h0m6 14h0m-34 1h0m17 3h0m-10 3h0m11 3h0m5 3h0m-23 1h0m23 2h0m7 1h0m-8 3h0m5 1h0m2 2h0m-20 3h0m-1 5h0m-12 1h0m22 0h0m4 1h0m13 2h0m-39 6h0m15 3h0m1 1h0m9 3h0m13 1h0m-22 3h0m-1 0h0m6 1h0m7 1h0m7 2h0m-13 1h0m-18 2h0m29 3h0m4 0h0m-27 1h0m4 1h0m-7 0h0m12 2h0m20 1h0m-14 2h0m-3 2h0m6 1h0m-20 1h0m26 4h0m-10 3h0m-14 0h0m17 1h0m4 3h0m7 1h0m-17 1h0m-8 1h0m8 1h0m-13 2h0m20 0h0m-3 2h0m-12 6h0m8 7h0m-2 1h0m-4 2h0m20 8h0m-15 7h0m23 -126h0m2 6h0m17 2h0m7 1h0m-13 2h0m18 7h0m-5 9h0m-18 5h0m-5 8h0m30 1h0m-7 1h0m6 4h0m-30 0h0m3 1h0m23 1h0m8 0h0m-25 0h0m13 2h0m8 2h0m-20 0h0m-13 0h0m36 1h0m-12 0h0m-24 1h0m8 4h0m-8 1h0m18 1h0m14 0h0m-8 1h0m-2 1h0m3 0h0m5 2h0m-8 1h0m-9 2h0m8 1h0m4 1h0m9 0h0m-6 0h0m-4 1h0m-24 0h0m25 0h0m-4 1h0m14 0h0m-29 0h0m27 2h0m-28 0h0m-5 3h0m36 1h0m-33 1h0m-3 2h0m29 0h0m-29 1h0m5 1h0m25 0h0m0 1h0m-24 1h0m6 3h0m-4 0h0m29 7h0m-31 0h0m21 0h0m4 1h0m-18 0h0m2 1h0m-4 2h0m-13 1h0m32 1h0m-8 1h0m10 1h0m-6 0h0m-3 0h0m13 0h0m-13 2h0m5 0h0m-20 1h0m0 1h0m24 0h0m-16 1h0m18 1h0m-25 1h0m21 3h0m-21 1h0m22 0h0m-10 0h0m1 2h0m9 0h0m-12 1h0m9 0h0m6 2h0m-10 1h0m-7 2h0m13 3h0m5 1h0m-37 0h0m30 2h0m-1 1h0m-12 0h0m-14 4h0m19 1h0m-19 3h0m27 2h0m-24 1h0m3 2h0m27 5h0m-16 0h0m18 11h0m-11 4h0m-24 11h0m31 21h0m24 -189h0m-14 13h0m20 12h0m8 1h0m-29 10h0m21 1h0m-23 1h0m11 0h0m21 0h0m-19 2h0m-13 1h0m22 4h0m-19 1h0m18 1h0m-3 2h0m15 0h0m2 0h0m-1 1h0m-21 2h0m0 1h0m24 1h0m-12 2h0m10 0h0m-10 2h0m-16 0h0m8 1h0m14 0h0m-23 2h0m-8 0h0m25 2h0m-12 0h0m-7 3h0m-2 1h0m-2 0h0m8 4h0m9 0h0m5 2h0m-11 1h0m5 1h0m-13 0h0m29 1h0m-11 0h0m-21 0h0m7 1h0m20 1h0m-8 0h0m-4 0h0m-8 1h0m-3 1h0m24 0h0m5 2h0m-10 0h0m12 1h0m-3 1h0m2 1h0m-28 0h0m12 1h0m8 0h0m-5 0h0m7 1h0m-20 0h0m-3 1h0m26 2h0m-9 0h0m-19 0h0m22 2h0m-23 0h0m-1 1h0m32 2h0m-13 2h0m-6 4h0m12 1h0m6 0h0m2 1h0m-19 2h0m-3 1h0m18 1h0m-6 1h0m-13 1h0m7 1h0m-1 0h0m10 2h0m-10 0h0m5 1h0m-16 0h0m8 0h0m-11 2h0m21 0h0m6 0h0m6 1h0m-28 0h0m7 2h0m6 3h0m-10 2h0m-10 0h0m20 1h0m4 1h0m-9 0h0m-7 0h0m-9 1h0m13 1h0m-13 2h0m16 0h0m-12 1h0m15 1h0m11 0h0m-5 1h0m-16 0h0m9 0h0m-20 2h0m-1 0h0m20 0h0m11 0h0m-23 1h0m16 0h0m-1 1h0m-3 0h0m15 1h0m-26 0h0m16 1h0m-23 0h0m11 1h0m10 4h0m16 0h0m-6 4h0m-3 1h0m-5 1h0m-8 3h0m13 1h0m-14 1h0m22 0h0m-16 1h0m-11 0h0m15 2h0m9 2h0m-17 0h0m5 2h0m-8 0h0m17 2h0m7 1h0m-11 2h0m-5 2h0m-5 3h0m20 12h0m-9 9h0m46 -180h0m-24 9h0m17 10h0m-2 6h0m-21 8h0m13 1h0m0 1h0m3 0h0m-13 1h0m30 0h0m-8 0h0m-13 2h0m2 2h0m-3 1h0m-11 2h0m4 2h0m18 1h0m-7 0h0m-13 1h0m18 3h0m12 0h0m-17 2h0m-8 3h0m17 0h0m-8 0h0m-20 0h0m20 2h0m6 1h0m4 0h0m6 1h0m-34 1h0m-3 1h0m23 1h0m-6 0h0m9 0h0m11 0h0m-24 1h0m-3 1h0m-2 0h0m29 1h0m-24 1h0m-13 0h0m16 0h0m-15 0h0m29 1h0m-8 1h0m3 0h0m-12 1h0m25 0h0m-31 2h0m17 1h0m15 0h0m-14 1h0m-10 1h0m-6 0h0m14 0h0m-9 1h0m18 0h0m-1 0h0m-28 1h0m5 0h0m31 0h0m-19 1h0m-4 1h0m13 0h0m-28 2h0m4 0h0m5 1h0m15 0h0m-1 0h0m6 1h0m-17 0h0m-2 2h0m-7 3h0m19 0h0m12 0h0m-19 0h0m-7 2h0m28 0h0m-36 1h0m20 0h0m15 2h0m-25 0h0m-9 0h0m19 3h0m18 0h0m-33 0h0m-5 1h0m18 1h0m-3 0h0m5 2h0m-13 0h0m31 1h0m-28 0h0m3 3h0m-14 0h0m21 0h0m-18 0h0m17 2h0m-6 2h0m13 2h0m8 1h0m1 1h0m-14 1h0m-1 0h0m-4 2h0m8 2h0m13 2h0m-9 1h0m-1 4h0m6 0h0m-10 1h0m-15 1h0m26 1h0m-29 0h0m-1 1h0m-5 0h0m38 1h0m-29 0h0m25 0h0m-2 0h0m-4 2h0m-6 0h0m-7 2h0m13 0h0m-14 0h0m23 0h0m-7 0h0m6 2h0m-34 1h0m6 0h0m18 0h0m3 3h0m-15 1h0m-1 1h0m26 0h0m-14 1h0m-20 2h0m25 1h0m-20 0h0m13 1h0m-6 0h0m14 2h0m-5 0h0m-15 1h0m15 1h0m-21 1h0m34 1h0m-39 1h0m5 0h0m15 0h0m-2 0h0m-1 1h0m6 0h0m4 2h0m7 0h0m-6 1h0m-18 0h0m2 1h0m-4 2h0m19 1h0m-21 0h0m15 0h0m17 1h0m-12 0h0m2 2h0m2 0h0m-29 0h0m22 1h0m8 1h0m5 0h0m0 1h0m-3 0h0m-18 0h0m-6 1h0m12 1h0m-2 0h0m11 0h0m-20 2h0m18 1h0m6 0h0m-4 3h0m-8 0h0m3 0h0m-12 1h0m10 6h0m-7 2h0m20 1h0m-10 5h0m-26 0h0m35 32h0m-12 29h0m24 -241h0m18 3h0m6 15h0m-26 15h0m34 4h0m-13 2h0m-21 2h0m21 2h0m-2 0h0m7 1h0m-6 0h0m-8 0h0m-17 3h0m38 2h0m-24 1h0m15 1h0m-6 0h0m-16 0h0m1 2h0m12 1h0m-1 1h0m11 0h0m-14 0h0m16 0h0m-29 1h0m31 2h0m-25 0h0m11 1h0m1 1h0m17 0h0m-34 2h0m-3 0h0m28 0h0m-19 1h0m17 2h0m9 0h0m-14 0h0m-22 2h0m30 1h0m-8 0h0m-11 1h0m23 0h0m-15 0h0m2 1h0m9 0h0m-28 1h0m7 1h0m11 0h0m-5 0h0m24 1h0m-1 0h0m-10 1h0m-24 0h0m17 1h0m-5 0h0m-9 1h0m11 0h0m-8 1h0m14 0h0m15 0h0m-38 1h0m32 0h0m3 0h0m-34 1h0m26 1h0m-7 2h0m-5 0h0m-1 0h0m-10 1h0m16 0h0m-16 1h0m13 1h0m-6 0h0m12 1h0m-12 0h0m23 1h0m-32 0h0m6 1h0m3 1h0m6 1h0m-8 0h0m0 2h0m15 0h0m4 0h0m-27 1h0m14 0h0m3 1h0m-11 2h0m18 1h0m-11 0h0m-12 0h0m35 0h0m-24 2h0m3 0h0m5 0h0m-19 3h0m21 0h0m-16 1h0m12 2h0m-13 3h0m-1 0h0m1 6h0m-4 11h0m-3 6h0m3 5h0m1 2h0m-3 1h0m7 5h0m-7 1h0m6 2h0m6 1h0m-9 1h0m11 2h0m-11 0h0m2 0h0m8 3h0m-9 0h0m18 0h0m-21 0h0m23 1h0m1 0h0m-21 1h0m18 0h0m-16 1h0m10 1h0m3 0h0m15 0h0m-27 1h0m13 0h0m11 1h0m-22 0h0m-9 1h0m8 0h0m-1 0h0m10 1h0m-8 1h0m22 0h0m6 2h0m-25 1h0m8 0h0m15 1h0m-4 1h0m-10 0h0m12 2h0m4 0h0m-29 0h0m6 1h0m-3 0h0m-8 0h0m24 1h0m-23 0h0m17 0h0m12 1h0m-31 1h0m1 0h0m7 2h0m1 0h0m12 0h0m5 2h0m10 1h0m-13 1h0m3 1h0m9 1h0m-19 0h0m13 0h0m4 2h0m-9 0h0m3 1h0m-17 1h0m8 1h0m-11 0h0m21 1h0m-22 0h0m6 0h0m10 0h0m-4 1h0m16 0h0m-21 2h0m-1 1h0m18 0h0m-1 1h0m-24 0h0m-1 0h0m24 1h0m7 5h0m-12 2h0m6 0h0m-30 4h0m29 4h0m8 3h0m-10 1h0m4 7h0m-24 7h0m26 0h0m-12 3h0m52 -197h0m-14 4h0m-8 8h0m19 3h0m-6 3h0m-24 1h0m31 3h0m-5 2h0m-13 4h0m6 1h0m0 1h0m-20 0h0m3 0h0m29 1h0m-18 1h0m3 1h0m11 1h0m-22 1h0m26 0h0m-21 1h0m-9 1h0m35 0h0m-36 1h0m5 0h0m5 0h0m14 1h0m-7 0h0m8 0h0m-15 0h0m2 1h0m-8 1h0m24 0h0m-13 3h0m-12 0h0m28 1h0m-26 1h0m18 0h0m11 1h0m-23 0h0m-11 1h0m-1 0h0m31 0h0m-31 1h0m6 3h0m24 0h0m2 0h0m-3 1h0m-30 0h0m4 1h0m34 2h0m-36 2h0m-2 0h0m10 0h0m27 0h0m-6 1h0m-24 2h0m30 0h0m1 0h0m-34 2h0m30 1h0m-26 0h0m-8 3h0m39 0h0m0 2h0m-36 0h0m-1 6h0m37 0h0m-38 65h0m1 3h0m2 8h0m-1 2h0m3 3h0m-3 0h0m8 4h0m-6 1h0m6 1h0m4 1h0m-8 2h0m1 0h0m9 4h0m5 1h0m-15 0h0m11 1h0m-2 0h0m4 1h0m-13 1h0m18 1h0m-18 0h0m16 4h0m-15 3h0m22 0h0m-12 1h0m13 0h0m7 1h0m-31 1h0m21 0h0m-24 1h0m15 2h0m11 1h0m-11 0h0m13 1h0m5 0h0m-22 0h0m1 3h0m12 2h0m5 1h0m-32 0h0m1 5h0m31 2h0m-18 2h0m20 1h0m-7 0h0m10 7h0m-12 2h0m-3 4h0m2 2h0m-2 1h0m16 5h0m21 -219h0m5 4h0m3 7h0m-2 6h0m-9 6h0m-9 1h0m31 1h0m-11 1h0m-10 0h0m-6 2h0m14 0h0m13 3h0m-36 0h0m4 3h0m-7 0h0m35 1h0m-27 4h0m5 2h0m22 0h0m-23 0h0m2 1h0m-14 2h0m33 1h0m-6 1h0m3 1h0m-30 0h0m21 0h0m8 2h0m2 0h0m-30 0h0m18 1h0m-10 0h0m24 0h0m-9 0h0m9 1h0m-31 0h0m5 1h0m23 0h0m4 0h0m-18 2h0m-1 1h0m9 0h0m-14 0h0m28 0h0m-6 0h0m-12 2h0m-20 0h0m30 1h0m-10 0h0m-12 1h0m-1 0h0m26 1h0m-23 0h0m6 1h0m10 0h0m-25 0h0m37 0h0m-17 1h0m-21 3h0m39 1h0m-12 0h0m-15 0h0m23 1h0m-3 0h0m-7 2h0m6 0h0m-21 0h0m-7 0h0m30 2h0m-27 0h0m-2 1h0m21 0h0m3 0h0m9 0h0m-6 0h0m-7 2h0m2 0h0m-24 1h0m25 4h0m10 0h0m2 2h0m-3 0h0m-3 1h0m-2 1h0m-30 90h0m1 7h0m6 1h0m-7 1h0m7 0h0m3 1h0m-7 0h0m11 1h0m-4 0h0m-10 0h0m25 1h0m-3 6h0m2 0h0m-12 0h0m16 0h0m-15 2h0m-4 1h0m22 1h0m-9 0h0m-15 1h0m3 0h0m16 2h0m-8 0h0m-19 1h0m35 1h0m-14 0h0m12 1h0m-3 1h0m8 0h0m-11 2h0m-7 0h0m-12 2h0m12 0h0m-6 1h0m14 1h0m-11 0h0m10 1h0m1 1h0m-4 2h0m0 1h0m5 0h0m3 4h0m3 1h0m-12 1h0m16 2h0m-6 0h0m4 2h0m-3 1h0m4 14h0m-33 13h0m16 11h0m34 -239h0m12 9h0m-4 9h0m-10 2h0m9 2h0m9 0h0m1 2h0m-29 1h0m12 1h0m4 3h0m-16 1h0m31 0h0m-21 0h0m10 1h0m11 1h0m-9 1h0m-15 0h0m19 2h0m-29 4h0m29 1h0m-26 0h0m3 0h0m5 0h0m16 1h0m-17 0h0m7 2h0m11 0h0m-7 1h0m6 0h0m-13 1h0m11 0h0m-18 1h0m29 0h0m-15 1h0m-2 0h0m20 1h0m-5 1h0m-8 0h0m12 1h0m-9 0h0m-25 1h0m33 1h0m-15 1h0m13 0h0m-32 0h0m35 6h0m-36 126h0m9 1h0m-7 4h0m5 1h0m9 1h0m-17 0h0m11 1h0m-4 3h0m16 0h0m-9 1h0m20 0h0m-1 1h0m-4 1h0m-5 1h0m2 1h0m2 1h0m3 2h0m-1 0h0m-31 2h0m16 0h0m20 1h0m2 1h0m-16 0h0m-3 0h0m-1 1h0m21 0h0m-23 1h0m21 0h0m-8 3h0m8 2h0m-1 1h0m-10 0h0m-18 4h0m19 2h0m10 0h0m-14 1h0m-10 2h0m-7 7h0m9 6h0m-7 8h0m31 3h0m2 -242h0m7 12h0m-4 12h0m21 3h0m-8 1h0m11 1h0m-13 1h0m-13 3h0m7 5h0m2 1h0m-2 1h0m-6 0h0m13 2h0m3 0h0m-15 1h0m-1 1h0m-1 1h0m31 0h0m-24 0h0m2 1h0m14 1h0m2 1h0m-2 0h0m-11 0h0m3 0h0m-5 1h0m-8 0h0m26 0h0m-2 1h0m-10 0h0m-2 2h0m-10 1h0m12 1h0m3 0h0m-16 1h0m4 0h0m16 2h0m-24 0h0m11 1h0m-1 0h0m6 1h0m18 1h0m-3 2h0m-3 2h0m-21 0h0m7 2h0m-10 0h0m5 2h0m-10 128h0m0 5h0m6 0h0m5 1h0m-6 0h0m22 1h0m-1 0h0m-6 0h0m-4 2h0m-15 1h0m29 1h0m-12 1h0m-16 2h0m32 1h0m-30 0h0m21 0h0m-8 0h0m-3 0h0m15 1h0m-9 0h0m15 2h0m-8 2h0m-13 0h0m19 1h0m6 1h0m-26 0h0m-9 0h0m22 1h0m7 1h0m-25 0h0m-2 3h0m27 0h0m-15 0h0m-4 1h0m18 0h0m-11 1h0m10 1h0m-26 0h0m17 0h0m6 2h0m-14 1h0m11 1h0m11 1h0m-15 1h0m18 0h0m-24 2h0m12 6h0m8 0h0m-31 1h0m28 4h0m-8 26h0m27 -280h0m12 18h0m0 12h0m-19 3h0m1 9h0m0 2h0m13 0h0m-4 6h0m-14 2h0m0 1h0m24 0h0m-21 1h0m5 0h0m13 6h0m-13 1h0m4 3h0m22 2h0m-30 0h0m29 1h0m-27 1h0m8 0h0m24 1h0m-29 1h0m-6 0h0m7 3h0m-10 1h0m3 1h0m20 0h0m-13 0h0m24 2h0m-19 0h0m3 1h0m-12 0h0m16 0h0m11 1h0m-22 1h0m20 0h0m-3 0h0m0 1h0m6 1h0m-31 0h0m-3 1h0m13 0h0m19 0h0m-30 0h0m15 2h0m13 0h0m-6 1h0m-9 0h0m20 4h0m1 1h0m-14 1h0m0 132h0m2 4h0m-5 2h0m-16 1h0m21 3h0m-16 0h0m6 0h0m-10 0h0m5 2h0m8 0h0m-3 1h0m-7 1h0m14 0h0m12 1h0m-3 0h0m-3 0h0m-4 0h0m7 1h0m-6 1h0m-13 0h0m26 1h0m-32 0h0m18 1h0m-7 1h0m-12 0h0m33 0h0m-28 2h0m10 0h0m-19 0h0m39 1h0m-13 0h0m-11 1h0m20 1h0m3 1h0m-1 0h0m-13 0h0m-6 1h0m8 1h0m-12 0h0m15 1h0m-5 3h0m-13 0h0m11 2h0m14 2h0m-3 2h0m-9 0h0m-10 1h0m3 0h0m12 1h0m-8 1h0m-16 0h0m30 4h0m-2 4h0m-30 0h0m33 3h0m-9 2h0m-13 18h0m20 6h0m28 -258h0m-20 1h0m9 16h0m25 3h0m-6 0h0m-4 2h0m-8 0h0m7 7h0m-15 3h0m-8 1h0m2 1h0m2 3h0m22 0h0m-19 1h0m-9 0h0m22 1h0m-15 4h0m10 1h0m-13 1h0m7 0h0m-10 4h0m3 0h0m3 1h0m22 0h0m-5 0h0m-1 1h0m-13 1h0m5 0h0m3 0h0m-1 1h0m6 1h0m11 1h0m-3 2h0m-12 0h0m4 0h0m15 0h0m-22 1h0m11 1h0m-10 0h0m11 1h0m-10 5h0m0 1h0m-14 137h0m2 2h0m-1 3h0m3 2h0m-3 2h0m-3 5h0m6 2h0m11 2h0m-11 0h0m-1 0h0m7 2h0m7 0h0m-21 2h0m23 3h0m-10 1h0m10 2h0m-7 2h0m19 1h0m-23 0h0m20 1h0m-6 3h0m-7 1h0m20 1h0m-1 1h0m-8 2h0m-10 0h0m-1 1h0m-7 4h0m17 2h0m10 0h0m-4 3h0m-8 6h0m11 0h0m-12 3h0m9 4h0m-11 1h0m35 -240h0m-18 13h0m10 6h0m10 2h0m7 0h0m-15 1h0m-4 0h0m-1 2h0m8 2h0m16 0h0m-21 0h0m-5 0h0m-2 1h0m27 2h0m-25 3h0m1 1h0m10 2h0m6 2h0m-18 0h0m26 2h0m2 0h0m-25 1h0m27 1h0m-27 1h0m9 0h0m-3 2h0m-5 0h0m20 1h0m-18 1h0m16 1h0m7 2h0m1 2h0m2 5h0m-31 158h0m10 1h0m3 0h0m-9 1h0m14 0h0m-24 0h0m2 3h0m9 0h0m17 1h0m0 1h0m-1 0h0m-15 0h0m8 1h0m1 1h0m8 0h0m5 1h0m-21 0h0m-8 1h0m9 3h0m16 0h0m6 0h0m3 0h0m-32 1h0m31 0h0m-8 2h0m-8 0h0m-10 0h0m15 0h0m-3 4h0m13 1h0m-16 1h0m-18 1h0m24 1h0m3 0h0m4 1h0m-3 4h0m-13 0h0m-2 2h0m7 7h0m-11 6h0m11 3h0m-13 0h0m21 6h0m6 4h0m-13 2h0m19 -248h0m7 8h0m20 0h0m-22 0h0m1 3h0m-6 1h0m-2 0h0m21 2h0m-6 0h0m-16 1h0m1 1h0m38 1h0m-32 1h0m-6 0h0m13 1h0m16 2h0m-22 1h0m-3 1h0m8 1h0m-2 1h0m11 0h0m-21 1h0m15 0h0m18 1h0m-27 1h0m1 1h0m17 1h0m-19 2h0m29 0h0m-8 0h0m7 1h0m-6 1h0m11 0h0m-15 1h0m8 5h0m6 2h0m-37 156h0m6 2h0m-2 6h0m6 1h0m26 3h0m-33 0h0m10 1h0m-8 0h0m7 0h0m1 1h0m-14 1h0m2 0h0m32 1h0m-2 3h0m-20 0h0m10 0h0m-3 0h0m-9 3h0m-9 2h0m1 0h0m32 1h0m3 0h0m2 0h0m-11 3h0m7 0h0m-12 0h0m16 0h0m-18 1h0m-21 1h0m35 1h0m-9 0h0m-9 2h0m20 1h0m-14 0h0m2 1h0m-19 0h0m28 1h0m-22 1h0m10 1h0m12 1h0m-15 2h0m16 0h0m-7 1h0m-5 0h0m14 1h0m-8 0h0m-11 0h0m19 3h0m-2 1h0m-29 1h0m48 -239h0m8 2h0m4 10h0m-24 1h0m6 1h0m-6 3h0m7 1h0m1 0h0m-1 5h0m5 3h0m16 2h0m-24 2h0m-3 1h0m16 1h0m2 2h0m6 1h0m-15 1h0m4 1h0m-5 0h0m-4 0h0m16 1h0m-11 3h0m11 1h0m-14 1h0m20 0h0m-18 1h0m13 1h0m4 1h0m7 0h0m-26 1h0m9 1h0m-1 2h0m14 1h0m-7 0h0m-12 0h0m21 1h0m-2 1h0m-18 1h0m9 0h0m16 1h0m-10 1h0m2 1h0m6 3h0m-10 0h0m11 1h0m-1 0h0m-8 4h0m8 3h0m-2 0h0m-32 141h0m3 7h0m12 0h0m4 1h0m-8 3h0m-5 2h0m10 2h0m7 0h0m-16 0h0m5 1h0m8 2h0m-8 0h0m8 2h0m3 1h0m-7 1h0m18 1h0m-4 0h0m-5 2h0m-16 1h0m10 0h0m-11 3h0m28 3h0m-26 0h0m9 1h0m7 0h0m-3 1h0m9 0h0m-12 1h0m3 2h0m12 0h0m-20 1h0m8 0h0m-10 1h0m-9 0h0m27 1h0m-20 3h0m-1 1h0m6 3h0m16 3h0m-17 3h0m31 -249h0m-6 7h0m19 6h0m-13 6h0m0 4h0m21 2h0m2 1h0m-24 1h0m-3 4h0m-2 0h0m4 3h0m8 0h0m20 2h0m-14 1h0m-14 1h0m8 2h0m-14 0h0m4 1h0m-3 1h0m38 0h0m-2 0h0m-33 0h0m9 1h0m-2 0h0m-8 1h0m36 1h0m-31 4h0m2 1h0m-5 0h0m9 0h0m-12 0h0m25 1h0m8 1h0m-30 1h0m-4 0h0m9 0h0m9 1h0m20 1h0m-25 1h0m18 1h0m-19 1h0m10 0h0m4 0h0m-6 2h0m9 1h0m2 1h0m5 5h0m-1 1h0m-25 152h0m-10 1h0m8 0h0m5 2h0m-9 0h0m6 6h0m-9 0h0m16 1h0m-15 2h0m-2 0h0m16 2h0m-7 1h0m2 0h0m-12 0h0m13 2h0m-2 0h0m16 1h0m-22 0h0m25 1h0m-8 1h0m-6 0h0m-2 0h0m9 3h0m-3 2h0m-9 0h0m-6 2h0m30 0h0m4 1h0m-22 2h0m15 1h0m-13 3h0m10 0h0m-7 1h0m14 1h0m-5 2h0m6 0h0m-8 2h0m4 2h0m4 0h0m-7 1h0m-5 1h0m-10 6h0m-12 3h0m21 1h0m2 3h0m-6 2h0m29 -257h0m14 24h0m-22 0h0m10 4h0m19 0h0m-23 4h0m11 2h0m-12 3h0m2 1h0m-3 2h0m2 0h0m18 1h0m-19 1h0m-4 0h0m8 3h0m24 1h0m-20 0h0m16 1h0m2 1h0m-13 0h0m13 2h0m-13 1h0m6 0h0m-11 1h0m10 1h0m2 2h0m9 0h0m-19 0h0m22 4h0m-16 1h0m-1 166h0m5 2h0m-20 0h0m15 0h0m-8 3h0m10 2h0m-15 1h0m18 0h0m-19 1h0m22 0h0m-10 1h0m-14 1h0m34 1h0m-26 0h0m8 0h0m-5 1h0m18 0h0m-3 0h0m-15 1h0m23 1h0m-8 0h0m-12 2h0m-10 1h0m27 1h0m-9 1h0m-8 4h0m10 1h0m-2 1h0m-10 3h0m15 3h0m-6 0h0m5 4h0m0 12h0m5 1h0m25 -249h0m-7 14h0m-10 6h0m18 7h0m-22 1h0m16 0h0m-14 0h0m10 1h0m2 1h0m-3 0h0m24 1h0m-8 0h0m-15 2h0m-4 0h0m-4 2h0m17 2h0m-16 1h0m3 0h0m22 0h0m-12 0h0m-4 1h0m14 1h0m-13 0h0m6 0h0m-4 1h0m-9 1h0m19 1h0m-9 3h0m-5 1h0m2 1h0m9 0h0m5 0h0m-15 1h0m1 0h0m13 0h0m-13 1h0m17 4h0m2 1h0m5 3h0m-34 152h0m25 2h0m2 2h0m-25 0h0m24 0h0m-24 1h0m15 1h0m-1 2h0m3 0h0m5 2h0m-2 1h0m-20 1h0m25 1h0m-7 0h0m-14 1h0m12 0h0m-5 0h0m-13 2h0m19 1h0m11 0h0m-19 2h0m16 0h0m-1 0h0m-22 1h0m25 1h0m-21 0h0m23 1h0m-8 1h0m-24 1h0m17 1h0m8 1h0m-21 0h0m31 2h0m-1 1h0m-7 2h0m-25 0h0m24 0h0m-16 2h0m5 0h0m-13 2h0m33 2h0m0 3h0m-20 0h0m-2 1h0m14 3h0m8 2h0m-6 0h0m-30 11h0m59 -251h0m-15 19h0m-3 10h0m7 1h0m-6 1h0m26 1h0m-30 2h0m28 0h0m-12 2h0m8 2h0m-14 1h0m-5 1h0m32 0h0m-21 1h0m5 2h0m10 0h0m-6 1h0m-15 1h0m13 3h0m11 0h0m-20 1h0m16 0h0m-16 4h0m4 2h0m1 0h0m12 1h0m-11 1h0m12 1h0m-12 1h0m10 0h0m-15 1h0m17 2h0m-10 1h0m13 0h0m-2 1h0m-14 1h0m14 0h0m-3 0h0m6 1h0m-12 0h0m11 2h0m1 0h0m-1 4h0m1 2h0m2 1h0m-37 139h0m13 2h0m-7 0h0m2 1h0m-3 0h0m14 1h0m-2 0h0m5 1h0m5 0h0m-8 1h0m-12 1h0m2 1h0m18 0h0m1 1h0m-10 1h0m13 1h0m-1 0h0m-14 0h0m-12 1h0m-6 1h0m20 0h0m6 1h0m4 1h0m-14 1h0m15 1h0m-6 0h0m8 1h0m-5 1h0m7 1h0m1 1h0m-32 1h0m15 0h0m15 0h0m-1 0h0m-22 1h0m14 2h0m8 0h0m-6 1h0m-5 2h0m-17 1h0m18 0h0m16 1h0m-2 0h0m-20 2h0m13 1h0m-2 0h0m-13 1h0m17 3h0m3 3h0m-32 1h0m13 2h0m2 5h0m-3 1h0m12 3h0m4 13h0m-13 2h0m22 -251h0m20 13h0m-13 8h0m9 0h0m21 5h0m-16 1h0m-19 2h0m8 1h0m3 1h0m0 1h0m5 2h0m-16 0h0m4 1h0m6 1h0m-4 1h0m-7 2h0m28 1h0m-21 1h0m-6 0h0m25 2h0m-8 0h0m8 2h0m5 0h0m-7 1h0m0 2h0m-23 0h0m30 2h0m-12 1h0m0 1h0m10 0h0m-3 1h0m5 2h0m1 0h0m-8 2h0m13 0h0m1 2h0m-3 1h0m-8 1h0m4 3h0m-10 0h0m6 0h0m11 1h0m0 1h0m-9 2h0m-4 2h0m-12 129h0m-8 3h0m4 0h0m1 0h0m6 2h0m-4 1h0m-6 0h0m11 2h0m16 1h0m-31 0h0m24 1h0m-8 0h0m-16 1h0m31 0h0m-22 0h0m12 1h0m1 0h0m-3 1h0m-5 1h0m21 0h0m-2 0h0m-32 1h0m9 1h0m9 1h0m-5 1h0m22 0h0m-11 1h0m-2 0h0m-14 0h0m19 0h0m-13 1h0m17 1h0m2 0h0m-13 0h0m-14 0h0m24 1h0m-2 0h0m-7 0h0m-17 3h0m9 2h0m1 0h0m8 1h0m5 1h0m-17 0h0m8 1h0m12 0h0m-3 0h0m3 2h0m4 1h0m-10 1h0m-2 1h0m-10 0h0m14 1h0m-4 1h0m-6 2h0m17 1h0m-10 0h0m-10 4h0m14 1h0m7 3h0m-38 2h0m14 0h0m22 7h0m5 -249h0m19 23h0m-4 6h0m-16 3h0m24 1h0m-10 1h0m7 5h0m-9 1h0m-4 0h0m17 0h0m-12 3h0m19 1h0m-25 0h0m2 1h0m17 1h0m-3 1h0m-18 3h0m24 2h0m-28 1h0m9 4h0m-6 1h0m25 1h0m-17 0h0m14 2h0m-4 0h0m-14 0h0m16 1h0m-19 0h0m1 1h0m9 0h0m17 1h0m-3 1h0m6 0h0m-30 1h0m21 0h0m4 0h0m-18 2h0m-4 0h0m28 0h0m2 0h0m-21 1h0m-1 3h0m6 0h0m17 0h0m-14 0h0m-20 1h0m34 0h0m-3 0h0m-29 1h0m27 0h0m-24 2h0m26 1h0m-8 1h0m-1 1h0m8 0h0m-3 0h0m-2 3h0m4 0h0m1 0h0m2 4h0m-34 114h0m1 1h0m-4 2h0m8 1h0m-7 4h0m7 1h0m1 2h0m-4 0h0m-2 3h0m11 1h0m-5 0h0m-3 1h0m-3 2h0m-2 3h0m14 1h0m-12 1h0m9 2h0m-6 1h0m7 1h0m-5 0h0m10 1h0m-3 2h0m-11 0h0m21 0h0m-4 1h0m-10 0h0m3 1h0m17 0h0m7 3h0m-37 0h0m31 1h0m-24 1h0m8 0h0m-3 1h0m21 1h0m3 0h0m-32 3h0m28 1h0m-3 0h0m-10 1h0m-11 8h0m17 1h0m-7 1h0m7 0h0m-8 2h0m1 0h0m16 2h0m34 -199h0m-21 4h0m28 4h0m-11 1h0m-11 3h0m23 1h0m-26 0h0m-11 1h0m23 2h0m-17 1h0m2 1h0m-6 1h0m24 1h0m-17 0h0m9 0h0m-14 0h0m0 1h0m4 1h0m23 1h0m-10 1h0m-8 0h0m9 0h0m-9 4h0m15 0h0m-23 0h0m28 0h0m-29 1h0m-3 0h0m21 0h0m15 1h0m-17 1h0m19 2h0m-10 0h0m-14 1h0m9 2h0m-3 3h0m11 1h0m-12 1h0m10 3h0m-8 0h0m11 2h0m2 2h0m-9 2h0m-16 116h0m-8 1h0m3 3h0m0 2h0m11 2h0m-2 0h0m-4 0h0m23 2h0m-30 1h0m16 1h0m-8 0h0m-1 2h0m2 1h0m19 0h0m-21 1h0m18 0h0m-23 1h0m29 1h0m-18 0h0m8 0h0m-15 2h0m6 1h0m4 0h0m13 3h0m-7 0h0m-17 0h0m-3 0h0m5 1h0m25 0h0m-11 0h0m-21 1h0m19 1h0m13 1h0m-2 0h0m3 1h0m2 3h0m-5 1h0m5 2h0m-14 1h0m5 4h0m-29 1h0m36 1h0m-16 0h0m5 2h0m-24 2h0m21 15h0m13 4h0m35 -235h0m-27 16h0m11 10h0m21 3h0m-20 2h0m0 5h0m-13 1h0m21 2h0m-16 1h0m23 0h0m-29 0h0m21 0h0m-4 3h0m-9 0h0m-1 3h0m18 2h0m-25 0h0m24 0h0m-12 1h0m-3 2h0m17 0h0m-7 0h0m5 1h0m-13 1h0m24 1h0m3 1h0m-30 0h0m2 3h0m26 2h0m-24 0h0m1 0h0m2 0h0m15 1h0m-4 0h0m-5 1h0m-2 0h0m0 1h0m-2 1h0m17 3h0m-9 0h0m-2 0h0m14 3h0m-1 0h0m-14 1h0m2 1h0m1 0h0m-3 0h0m15 5h0m-7 1h0m3 7h0m-4 95h0m4 2h0m-1 0h0m3 2h0m-11 1h0m1 0h0m12 0h0m-37 1h0m21 1h0m-20 3h0m25 0h0m-27 0h0m33 0h0m3 1h0m-11 0h0m3 1h0m-22 0h0m19 0h0m-8 0h0m3 0h0m-11 1h0m6 1h0m-13 1h0m35 0h0m-2 0h0m-8 0h0m-10 0h0m-6 2h0m22 1h0m-18 1h0m9 0h0m10 1h0m-5 0h0m-8 0h0m-9 1h0m7 2h0m1 0h0m-17 0h0m14 0h0m15 2h0m-26 0h0m21 3h0m12 0h0m-20 4h0m16 0h0m-5 3h0m-7 2h0m13 0h0m-22 1h0m14 1h0m-15 0h0m19 1h0m6 1h0m-30 1h0m28 0h0m-23 2h0m20 1h0m-9 1h0m8 2h0m-27 2h0m25 2h0m0 5h0m12 -229h0m29 35h0m-29 0h0m-2 10h0m17 2h0m-10 0h0m12 5h0m-5 0h0m-10 3h0m17 2h0m6 3h0m-19 0h0m6 1h0m6 0h0m-7 3h0m-10 1h0m0 1h0m13 3h0m-8 1h0m16 0h0m-23 1h0m16 0h0m-8 2h0m-2 2h0m23 0h0m-16 1h0m10 0h0m10 4h0m5 1h0m-24 1h0m3 1h0m1 0h0m-2 1h0m18 1h0m1 1h0m-17 0h0m17 3h0m-20 0h0m2 0h0m20 1h0m-15 1h0m2 1h0m-2 1h0m-8 0h0m14 0h0m2 3h0m-6 1h0m-2 1h0m-7 1h0m17 3h0m-10 0h0m14 0h0m-20 1h0m7 1h0m12 4h0m-17 0h0m20 3h0m-19 0h0m-3 1h0m21 67h0m-37 2h0m35 3h0m-2 3h0m-2 1h0m6 1h0m-38 3h0m29 1h0m6 0h0m-31 2h0m-4 0h0m14 0h0m-3 2h0m9 2h0m-12 0h0m24 0h0m-13 0h0m11 0h0m-19 0h0m23 1h0m1 0h0m-12 0h0m-16 1h0m25 0h0m-32 1h0m34 1h0m5 1h0m-6 0h0m-29 1h0m6 0h0m18 0h0m-27 0h0m13 1h0m-4 1h0m19 0h0m6 0h0m-34 0h0m24 1h0m-6 0h0m20 1h0m-12 4h0m-14 0h0m8 0h0m-12 1h0m11 1h0m16 0h0m-7 1h0m2 0h0m-24 0h0m11 1h0m-2 0h0m-11 2h0m33 1h0m-32 0h0m28 0h0m4 1h0m-9 3h0m5 3h0m-11 0h0m13 1h0m2 5h0m-3 2h0m-18 3h0m13 0h0m8 0h0m-7 4h0m-23 0h0m18 6h0m0 3h0m12 6h0m-14 3h0m-15 4h0m1 8h0m32 -211h0m16 5h0m2 4h0m-11 2h0m17 3h0m-16 1h0m-10 1h0m6 2h0m11 0h0m12 4h0m-10 1h0m-15 0h0m13 2h0m-17 0h0m13 2h0m1 2h0m2 3h0m13 1h0m3 2h0m-20 0h0m-10 0h0m20 1h0m-16 0h0m12 0h0m6 2h0m14 0h0m-34 2h0m19 0h0m-21 1h0m15 2h0m2 0h0m-7 2h0m13 1h0m-22 1h0m17 0h0m-10 0h0m-7 1h0m1 0h0m5 1h0m7 0h0m18 1h0m-2 2h0m6 0h0m-9 0h0m-26 0h0m22 1h0m-9 0h0m-15 2h0m8 0h0m18 0h0m8 2h0m-29 1h0m-3 1h0m25 3h0m5 0h0m5 0h0m0 1h0m-4 1h0m-8 1h0m13 1h0m-12 0h0m-10 0h0m8 1h0m9 2h0m-1 1h0m-11 0h0m17 3h0m-2 1h0m-9 2h0m4 1h0m0 3h0m5 2h0m-1 1h0m2 3h0m-1 0h0m-3 5h0m2 4h0m-2 1h0m1 0h0m0 5h0m-34 22h0m2 10h0m2 1h0m-4 2h0m11 2h0m-8 1h0m10 2h0m-3 0h0m10 2h0m-4 2h0m10 0h0m-26 0h0m25 1h0m-22 1h0m24 0h0m-21 1h0m9 1h0m-6 1h0m22 1h0m-27 1h0m24 1h0m-24 1h0m9 0h0m23 1h0m-34 0h0m10 2h0m2 0h0m19 0h0m5 2h0m-4 0h0m-18 1h0m-7 2h0m12 1h0m1 0h0m-18 0h0m1 1h0m33 1h0m-9 0h0m8 1h0m-37 0h0m7 1h0m20 1h0m-7 0h0m10 0h0m3 3h0m-10 0h0m-1 3h0m-2 1h0m-15 1h0m28 0h0m-21 1h0m-13 0h0m20 3h0m6 5h0m1 1h0m0 7h0m7 2h0m-9 2h0m11 1h0m-1 5h0m-3 0h0m-3 1h0m-10 28h0m58 -225h0m-8 8h0m-25 20h0m14 7h0m-2 4h0m-13 4h0m1 1h0m4 4h0m23 1h0m-15 2h0m0 2h0m-1 3h0m-8 3h0m4 2h0m-5 0h0m28 1h0m-12 1h0m11 0h0m-13 0h0m-13 1h0m19 4h0m-11 1h0m-1 0h0m-9 0h0m3 1h0m-6 1h0m26 0h0m-1 1h0m-22 0h0m29 0h0m-6 2h0m4 0h0m-7 1h0m-17 0h0m-8 1h0m9 0h0m-6 1h0m8 0h0m28 0h0m-35 1h0m2 1h0m7 1h0m1 1h0m5 0h0m-3 1h0m1 0h0m9 0h0m-1 3h0m-9 0h0m9 1h0m-19 0h0m-1 0h0m33 0h0m-10 0h0m5 0h0m-8 1h0m6 0h0m-29 1h0m9 1h0m-10 0h0m36 3h0m-8 1h0m9 1h0m-8 1h0m1 2h0m7 4h0m-3 1h0m4 1h0m-14 11h0m6 5h0m-6 1h0m2 2h0m4 3h0m-3 3h0m10 1h0m-12 1h0m6 1h0m-8 3h0m-19 2h0m28 0h0m-5 0h0m-13 1h0m-12 0h0m29 0h0m4 1h0m-24 0h0m1 1h0m18 0h0m-10 1h0m-18 2h0m29 2h0m-22 0h0m-6 0h0m-4 1h0m27 0h0m-13 0h0m19 1h0m-16 1h0m-3 0h0m23 2h0m-18 0h0m-13 1h0m25 1h0m-5 1h0m-25 0h0m33 0h0m-28 2h0m15 1h0m-8 0h0m14 0h0m10 1h0m-22 0h0m-11 0h0m14 0h0m-5 1h0m-6 2h0m30 0h0m-9 1h0m-28 0h0m11 1h0m-3 0h0m24 0h0m-17 0h0m10 1h0m-19 1h0m-5 0h0m1 1h0m27 0h0m2 1h0m-11 0h0m3 1h0m5 0h0m-13 2h0m-7 1h0m29 0h0m-4 1h0m-33 1h0m19 1h0m-12 0h0m22 1h0m-24 1h0m-1 1h0m10 0h0m22 1h0m-22 0h0m19 1h0m3 0h0m-9 0h0m-11 1h0m-14 1h0m33 0h0m-22 2h0m24 1h0m-2 3h0m-13 3h0m6 1h0m-10 0h0m4 1h0m-20 0h0m24 1h0m-14 3h0m17 2h0m-2 2h0m12 8h0m-14 1h0m0 2h0m4 1h0m8 4h0m-27 4h0m-6 3h0m56 -173h0m-12 12h0m26 4h0m-33 2h0m23 3h0m-10 2h0m2 0h0m0 1h0m-14 3h0m22 3h0m-24 2h0m37 0h0m-31 0h0m32 0h0m-10 3h0m-26 1h0m17 0h0m-3 1h0m20 1h0m-4 0h0m-21 0h0m-11 0h0m14 2h0m-7 1h0m0 1h0m-1 2h0m2 1h0m-7 2h0m26 0h0m8 2h0m-17 0h0m6 0h0m-6 1h0m-9 1h0m-3 3h0m20 0h0m-15 2h0m2 1h0m2 1h0m4 0h0m-8 6h0m14 0h0m-7 1h0m20 0h0m-4 1h0m-8 0h0m-10 1h0m6 0h0m0 2h0m-14 1h0m24 0h0m-15 1h0m16 0h0m-7 2h0m-1 3h0m-6 0h0m-1 0h0m-18 2h0m7 0h0m12 1h0m4 0h0m-18 1h0m22 2h0m-20 1h0m6 1h0m1 0h0m-4 0h0m-6 0h0m-3 0h0m-1 0h0m17 1h0m-16 1h0m27 0h0m-14 1h0m13 0h0m-7 1h0m-17 0h0m31 1h0m-14 1h0m2 0h0m-4 1h0m-6 1h0m-6 1h0m-2 0h0m35 0h0m-28 1h0m-2 0h0m6 0h0m-14 0h0m30 1h0m-15 0h0m-3 1h0m-2 0h0m12 1h0m-10 0h0m19 1h0m-27 0h0m26 1h0m8 1h0m-38 0h0m24 1h0m-1 1h0m9 0h0m-20 0h0m14 1h0m-1 3h0m-23 1h0m14 0h0m20 0h0m-33 1h0m28 0h0m-25 1h0m21 0h0m-28 0h0m21 1h0m17 0h0m-10 2h0m1 1h0m-24 1h0m17 1h0m4 0h0m-11 0h0m-1 5h0m-7 2h0m19 0h0m-11 1h0m20 0h0m-34 0h0m19 2h0m9 0h0m-14 2h0m-10 1h0m19 2h0m14 1h0m-19 2h0m10 1h0m-12 0h0m-4 0h0m0 1h0m-2 1h0m12 1h0m-11 1h0m4 0h0m6 2h0m-10 0h0m23 1h0m-8 0h0m-17 2h0m3 4h0m17 3h0m-5 1h0m-15 1h0m16 6h0m-1 1h0m-9 7h0m-5 6h0m22 1h0m-8 33h0m-11 9h0m55 -211h0m-22 4h0m11 10h0m18 10h0m-27 2h0m1 5h0m28 10h0m-2 1h0m-28 0h0m10 8h0m-2 2h0m14 2h0m-7 1h0m1 1h0m-22 3h0m13 0h0m19 1h0m-14 1h0m-7 2h0m-5 1h0m-6 3h0m7 1h0m29 1h0m-37 2h0m25 2h0m-19 2h0m31 1h0m-29 0h0m13 1h0m11 4h0m6 3h0m-3 2h0m-24 12h0m1 2h0m-9 1h0m24 1h0m-12 1h0m-4 0h0m-3 0h0m0 2h0m26 1h0m-26 0h0m9 1h0m15 2h0m-17 1h0m-15 1h0m2 0h0m27 1h0m-2 0h0m-27 1h0m24 1h0m13 0h0m-10 1h0m-20 0h0m4 0h0m12 1h0m-19 0h0m33 2h0m-27 0h0m-5 1h0m-5 0h0m31 0h0m-19 3h0m4 0h0m-14 1h0m18 0h0m-17 0h0m16 0h0m5 0h0m-3 1h0m8 1h0m0 2h0m-15 3h0m-9 2h0m-2 0h0m8 0h0m26 0h0m0 1h0m-38 1h0m23 3h0m15 0h0m-2 0h0m-20 1h0m14 0h0m-22 0h0m-2 2h0m28 2h0m-25 0h0m8 1h0m19 0h0m-20 1h0m5 1h0m10 1h0m-26 4h0m32 0h0m-31 1h0m19 1h0m4 1h0m7 1h0m-10 1h0m-18 0h0m11 0h0m4 2h0m-13 0h0m6 1h0m14 3h0m9 0h0m-22 4h0m9 3h0m-6 0h0m7 9h0m2 20h0m0 3h0m4 7h0m22 -149h0m-12 3h0m32 4h0m-31 2h0m12 2h0m9 1h0m-11 1h0m11 1h0m-16 5h0m8 4h0m-7 0h0m15 2h0m-19 1h0m9 0h0m5 1h0m-2 6h0m-9 1h0m15 1h0m-9 3h0m7 1h0m6 2h0m4 1h0m-21 0h0m6 3h0m-6 2h0m8 4h0m2 1h0m18 0h0m-26 0h0m-4 1h0m3 0h0m11 3h0m7 4h0m-10 2h0m-12 1h0m1 0h0m-3 0h0m23 0h0m-20 2h0m27 4h0m-13 0h0m-15 3h0m1 4h0m3 1h0m-10 3h0m22 1h0m2 1h0m-4 1h0m12 0h0m-20 1h0m23 1h0m-1 1h0m2 0h0m-32 3h0m14 1h0m10 0h0m-17 2h0m-6 2h0m9 3h0m20 1h0m-19 2h0m18 6h0m-20 2h0m12 1h0m-26 2h0m22 3h0m13 3h0m-15 1h0m13 15h0m-15 9h0m15 2h0m-31 1h0m17 14h0m15 13h0m19 -124h0m13 9h0m-9 3h0m-14 1h0m0 13h0m2 3h0m5 6h0m-10 2h0m5 1h0m-3 0h0m4 4h0m-6 12h0m12 4h0m-5 3h0m6 5h0m6 9h0m4 11h0m-10 0h0m-13 10h0m3 15h0m33 3h0m-32 7h0m11 2h0m23 6h0m1 -119h0m12 21h0m-6 7h0m27 8h0m6 6h0m-6 4h0m-22 7h0m-1 13h0m-10 3h0m9 14h0m22 7h0m-26 1h0m-4 0h0m21 24h0m32 -105h0m-5 12h0m1 11h0m-10 25h0m32 15h0m-22 17h0m1 1h0m25 4h0m-6 7h0m11 -67h0m15 25h0m19 58h0" fill="none" stroke="#0404f4" stroke-width="7.1" stroke-linecap="round"/>
</svg></body></html>
